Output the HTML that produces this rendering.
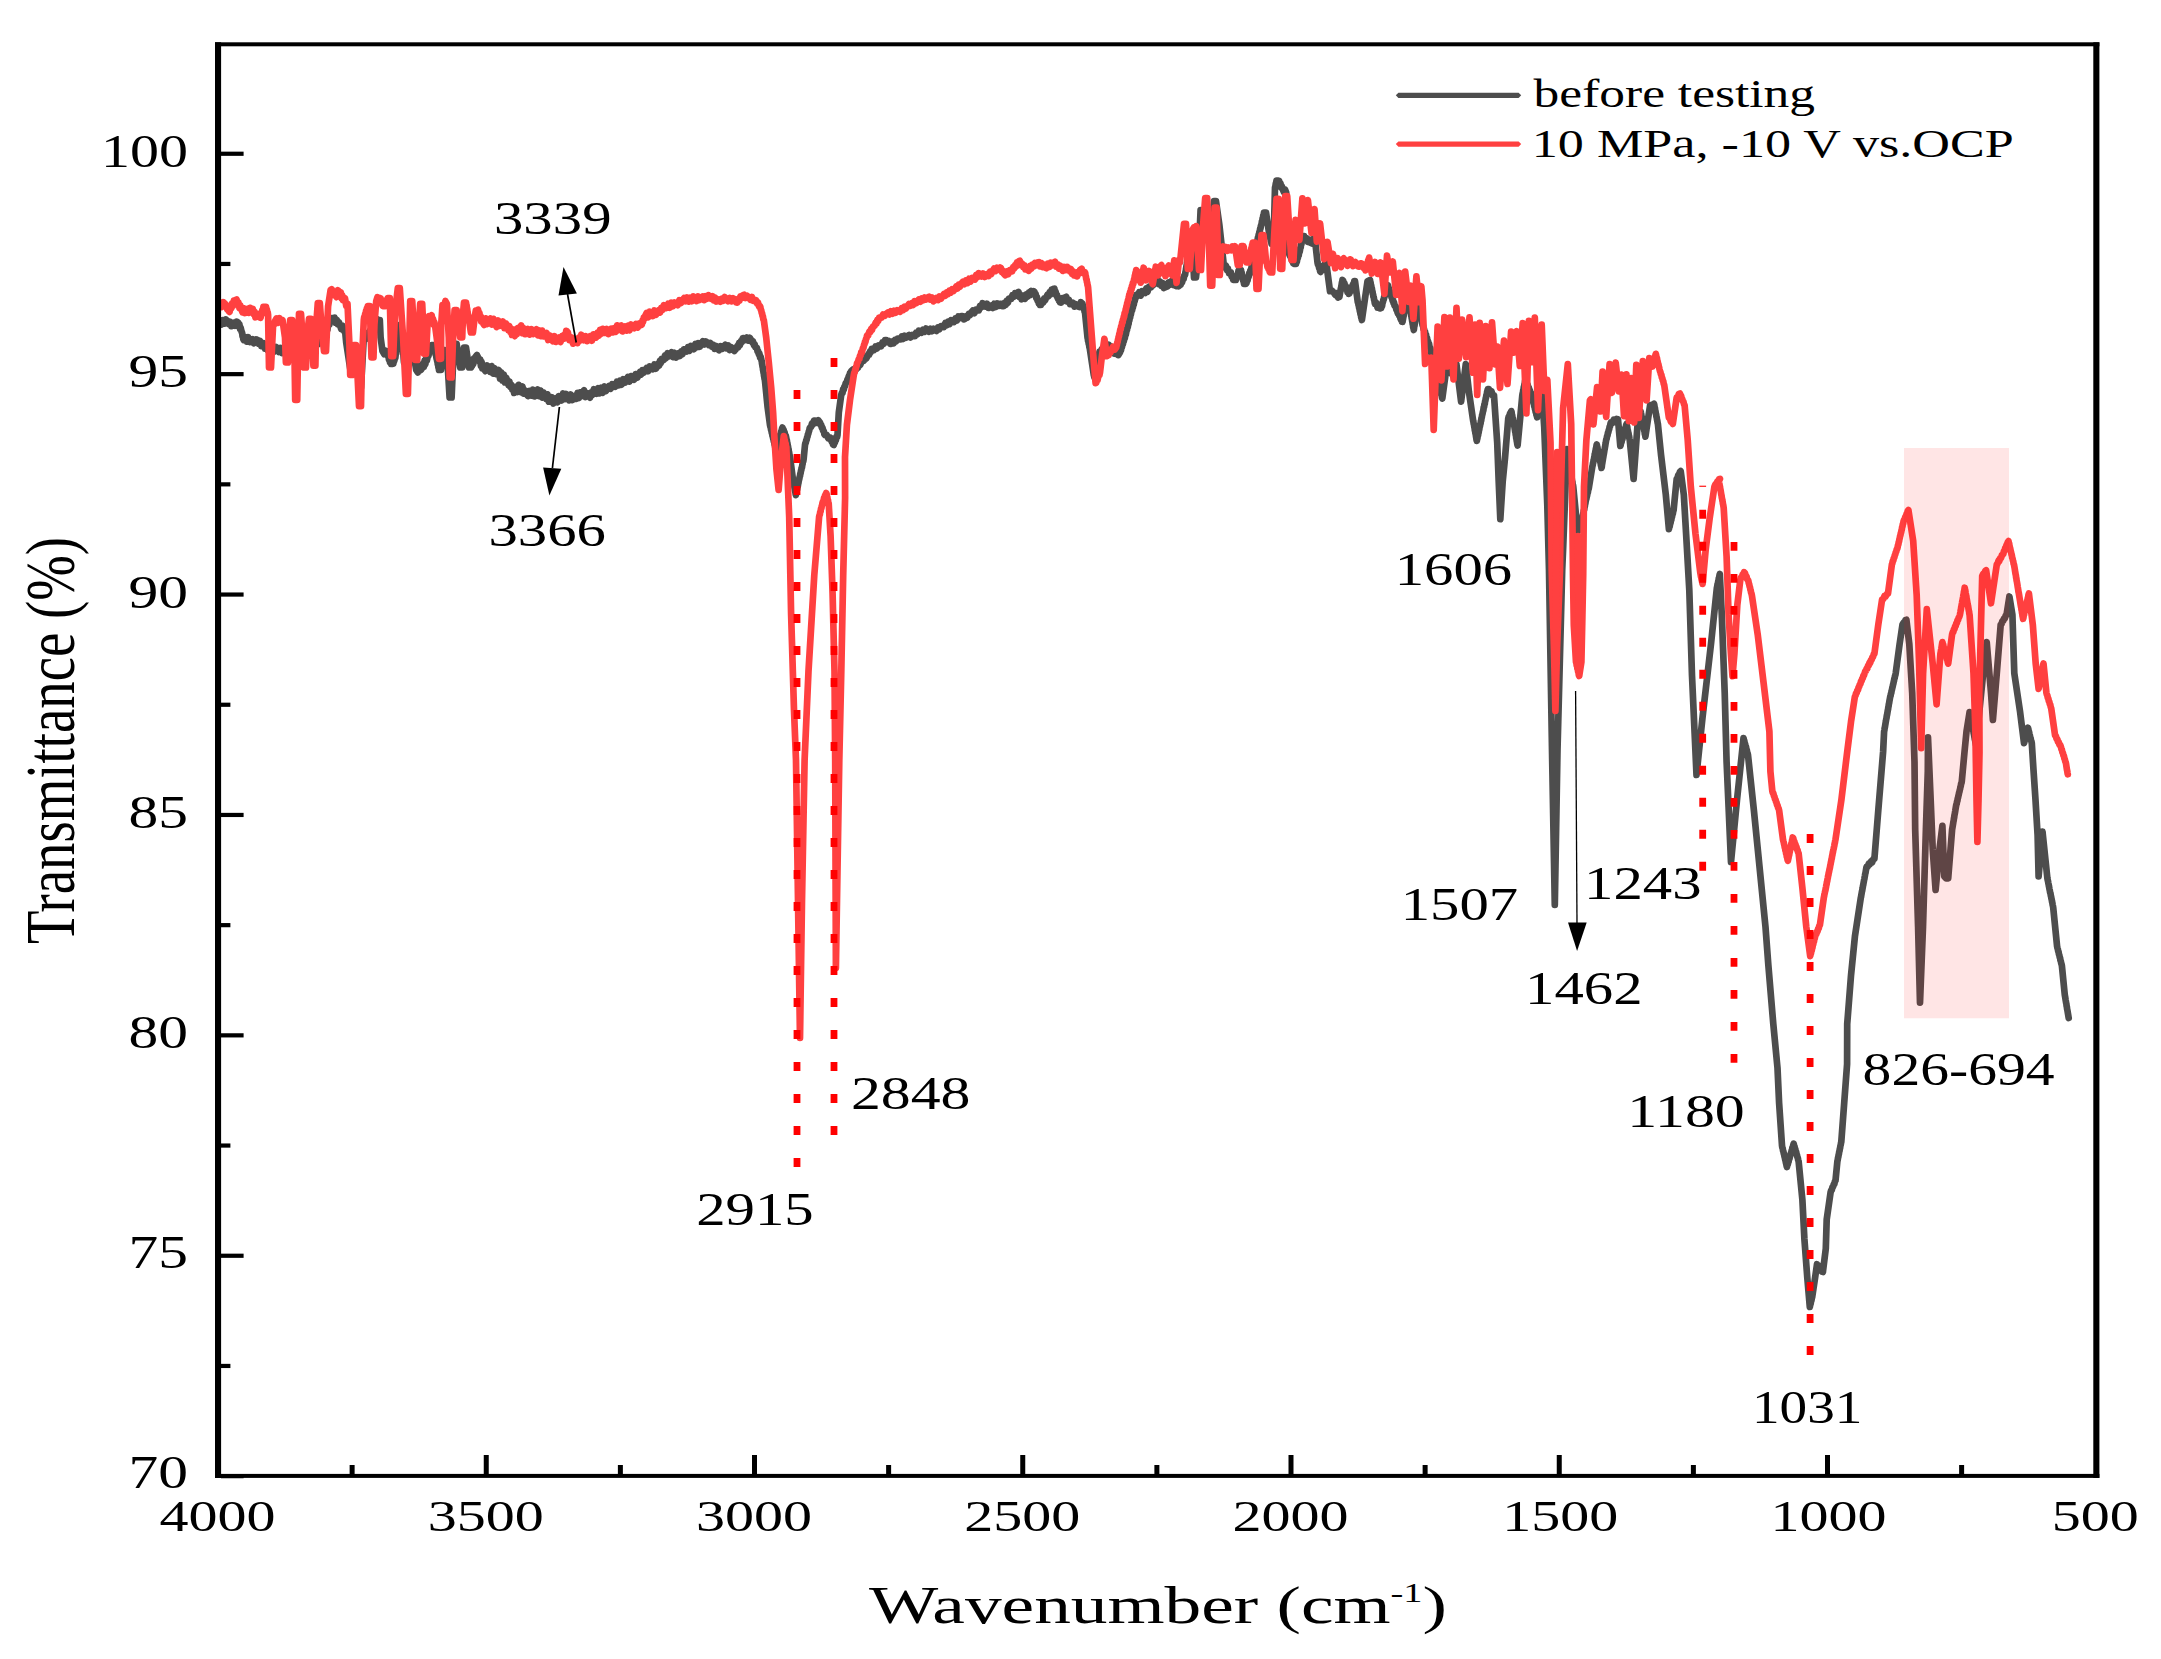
<!DOCTYPE html>
<html lang="en"><head><meta charset="utf-8"><title>FTIR spectra</title>
<style>html,body{margin:0;padding:0;background:#fff;}svg{display:block;}</style></head>
<body>
<svg width="2161" height="1659" viewBox="0 0 2161 1659">
<rect x="0" y="0" width="2161" height="1659" fill="#ffffff"/>
<defs><clipPath id="plot"><rect x="218" y="44" width="1878" height="1432"/></clipPath></defs>
<polyline fill="none" stroke="#4d4d4d" stroke-width="6.7" stroke-linejoin="round" stroke-linecap="round" clip-path="url(#plot)" points="218.1,323.8 219.7,321.4 221.2,324.6 222.8,320.1 224.4,323.6 225.9,319.4 227.5,321.2 228.8,324.1 230.0,321.7 231.2,326.2 232.5,325.0 233.9,322.9 235.3,325.8 236.7,321.6 238.1,322.5 238.8,325.0 239.4,324.2 240.0,328.7 240.6,327.5 241.2,330.0 241.7,332.3 242.1,332.5 242.5,336.1 242.9,335.8 243.3,339.1 243.8,340.0 245.2,337.0 246.8,341.6 248.2,337.2 249.8,342.0 251.2,340.0 252.5,339.2 253.8,343.3 255.0,342.5 256.2,339.4 257.5,340.0 258.8,343.8 260.0,340.9 261.2,346.0 262.5,345.0 263.8,343.4 265.0,348.7 266.2,345.2 267.5,349.9 268.8,347.6 270.0,350.0 271.5,351.6 273.0,346.9 274.5,351.5 276.0,346.9 277.5,348.8 279.0,352.0 280.5,348.0 282.0,353.0 283.5,348.9 285.0,352.5 286.4,355.7 287.9,351.6 289.3,356.6 290.7,352.2 292.1,358.2 293.6,352.9 295.0,356.2 296.7,357.9 298.3,352.2 300.0,356.8 301.7,352.3 303.3,357.1 305.0,353.8 306.2,350.9 307.5,353.8 308.8,348.9 310.0,351.9 311.2,345.6 312.5,349.6 313.8,343.2 315.0,345.0 316.1,345.9 317.1,340.3 318.2,344.2 319.3,338.3 320.4,341.9 321.4,335.8 322.5,337.5 323.2,338.4 323.9,333.0 324.6,335.3 325.3,330.7 326.0,332.6 326.7,327.2 327.4,330.1 328.1,324.2 328.8,325.0 329.4,324.6 330.1,320.2 330.8,321.5 331.5,318.1 333.5,318.1 334.6,317.7 335.7,322.7 336.8,319.8 337.8,324.4 338.9,322.2 340.0,325.0 341.2,329.0 342.5,325.7 343.8,330.7 345.0,330.0 346.2,342.5 350.2,368.8 352.2,368.8 354.0,350.0 356.0,350.0 359.0,387.5 361.0,387.5 363.8,337.5 365.0,334.2 366.2,338.9 367.5,333.0 368.8,336.4 370.0,330.4 371.2,335.4 372.5,331.2 373.2,327.7 373.8,330.7 374.5,325.5 375.1,327.3 375.8,322.6 376.4,325.1 377.1,319.0 377.8,320.0 379.8,320.0 380.6,337.5 382.5,351.2 384.2,354.2 385.8,350.8 387.5,353.8 388.0,356.3 388.5,355.4 388.9,359.4 389.4,358.0 389.9,362.1 390.4,361.4 390.9,363.8 392.9,363.8 393.4,363.7 393.8,359.6 394.3,360.9 394.8,356.2 395.3,358.2 395.8,353.7 396.2,353.8 399.0,325.0 401.0,325.0 404.0,362.5 406.0,362.5 409.0,337.5 411.0,337.5 416.2,370.0 417.8,372.4 419.4,365.6 420.9,370.1 422.5,367.5 423.2,363.5 423.9,367.0 424.6,360.7 425.4,364.2 426.1,358.5 426.8,360.8 427.5,357.5 428.0,354.9 428.5,355.9 429.0,351.8 429.5,352.2 430.0,348.6 430.5,349.2 431.0,345.3 431.5,345.0 433.5,345.0 433.9,347.3 434.3,347.5 434.7,350.6 435.1,350.7 435.5,354.0 435.9,353.9 436.2,356.2 436.6,358.8 436.9,358.5 437.2,361.4 437.5,361.7 437.8,364.6 438.1,364.7 438.4,367.5 438.7,367.5 439.0,370.0 441.0,370.0 442.8,350.0 444.8,350.0 445.1,352.8 445.4,352.2 445.8,355.6 446.1,355.6 446.5,358.5 446.8,358.6 447.2,361.7 447.5,362.5 449.6,397.5 451.6,397.5 453.1,362.5 454.6,343.8 456.6,343.8 460.2,367.5 462.2,367.5 464.0,347.5 466.0,347.5 469.0,367.5 471.0,367.5 471.6,363.9 472.1,366.0 472.7,362.0 473.3,364.1 473.9,358.5 474.4,360.3 475.0,357.5 476.9,355.0 478.8,358.8 479.5,361.6 480.2,359.4 480.9,365.9 481.6,361.8 482.3,368.3 483.0,365.5 483.8,368.8 485.4,371.1 487.1,365.5 488.8,367.5 490.2,371.9 491.7,366.1 493.1,373.6 494.6,368.2 496.0,374.1 497.5,372.5 498.8,370.1 500.0,378.5 501.2,372.2 502.5,380.4 503.8,374.5 505.0,382.4 506.2,377.8 507.5,381.2 508.4,385.1 509.4,381.4 510.3,386.8 511.2,384.5 512.2,389.7 513.1,386.6 514.1,392.9 515.0,391.2 516.2,386.6 517.5,392.1 518.8,384.8 520.0,387.5 521.2,392.3 522.5,386.5 523.8,393.7 525.0,390.3 526.2,393.8 527.9,396.0 529.6,391.0 531.2,395.5 532.9,389.8 534.6,396.4 536.2,392.5 537.7,389.4 539.2,396.1 540.6,390.6 542.1,397.6 543.5,392.5 545.0,395.0 546.2,399.1 547.5,394.3 548.8,401.7 550.0,400.0 551.7,397.2 553.3,403.5 555.0,401.2 556.2,398.3 557.5,402.4 558.8,396.2 560.0,397.5 561.5,400.5 563.0,393.5 564.5,399.2 566.0,394.0 567.5,396.2 569.1,400.3 570.6,394.5 572.2,400.1 573.8,398.8 575.0,396.0 576.2,398.9 577.5,393.0 578.8,398.1 580.0,392.4 581.2,396.3 582.5,392.5 584.1,390.2 585.6,397.1 587.2,393.1 588.8,396.2 590.0,397.7 591.2,392.5 592.5,394.8 593.8,389.2 595.0,391.2 596.6,393.6 598.1,388.2 599.7,393.4 601.2,387.7 602.8,392.7 604.4,386.5 605.9,391.0 607.5,388.8 609.1,385.9 610.6,388.8 612.2,384.1 613.8,385.0 615.3,386.8 616.9,381.8 618.4,385.3 620.0,380.8 621.6,384.7 623.1,379.2 624.7,382.8 626.2,380.0 627.8,377.1 629.4,381.5 630.9,376.1 632.5,377.5 634.1,379.6 635.6,374.1 637.2,377.8 638.8,375.0 640.0,372.0 641.2,374.4 642.5,370.1 643.8,372.6 645.0,370.0 646.6,368.0 648.1,371.2 649.7,366.5 651.2,367.5 652.8,369.2 654.4,364.5 655.9,368.7 657.5,366.2 658.3,363.6 659.2,365.4 660.0,360.8 660.8,363.2 661.7,358.8 662.5,358.8 663.8,359.9 665.0,355.5 666.2,357.9 667.5,353.2 668.8,356.5 670.0,353.8 671.5,352.2 673.0,357.0 674.5,352.8 676.0,357.6 677.5,356.2 678.8,353.3 680.0,356.0 681.2,351.3 682.5,354.1 683.8,349.3 685.0,350.0 686.5,351.4 688.0,347.2 689.5,350.9 691.0,345.9 692.5,347.5 694.0,349.1 695.4,343.9 696.9,347.1 698.3,343.1 699.8,346.7 701.2,343.8 702.8,341.2 704.4,344.5 705.9,341.5 707.5,342.5 708.9,345.0 710.4,343.1 711.8,346.6 713.2,344.9 714.6,348.8 716.1,345.9 717.5,348.8 719.1,350.3 720.6,346.2 722.2,348.8 723.8,346.2 725.2,344.8 726.7,348.4 728.1,345.4 729.6,350.1 731.0,347.0 732.5,348.8 734.4,350.9 736.2,348.8 737.2,346.2 738.1,347.4 739.1,343.0 740.0,345.1 740.9,341.1 741.9,342.0 742.8,338.1 743.8,338.1 745.2,339.9 746.8,337.6 748.2,340.6 749.8,337.8 751.2,340.0 752.1,342.1 752.9,341.2 753.8,344.9 754.6,344.2 755.4,347.3 756.2,347.5 756.9,347.8 757.5,351.3 758.1,351.0 758.8,354.4 759.4,353.4 760.0,357.2 760.6,356.6 761.2,358.8 761.5,360.5 761.8,361.5 762.0,363.6 762.2,364.5 762.5,366.5 762.8,367.5 763.0,369.6 763.2,370.4 763.5,372.5 763.8,373.5 764.0,375.6 764.2,376.4 764.5,378.6 764.8,379.5 765.0,381.2 767.5,406.2 770.0,425.0 770.4,426.8 770.7,427.4 771.1,429.9 771.4,430.5 771.8,433.0 772.1,433.3 772.5,435.9 772.8,436.4 773.2,438.8 773.5,439.4 773.9,441.8 774.2,442.2 774.6,444.6 774.9,445.1 775.3,447.7 775.6,448.1 776.0,450.0 776.4,449.0 776.9,446.4 777.3,446.0 777.7,443.5 778.2,443.0 778.6,440.6 779.0,440.0 779.5,437.5 779.9,437.0 780.3,434.3 780.8,434.0 781.2,431.4 781.6,431.0 782.1,428.5 782.5,427.5 783.0,429.5 783.6,429.7 784.1,432.3 784.6,432.3 785.2,435.5 785.7,435.4 786.2,437.5 786.5,439.3 786.8,440.0 787.1,442.3 787.4,443.1 787.7,445.3 788.0,446.2 788.3,448.4 788.6,449.2 788.8,451.4 789.1,452.1 789.4,454.5 789.7,455.2 790.0,457.0 793.0,480.0 793.3,481.9 793.6,482.6 793.9,484.9 794.2,485.7 794.5,487.8 794.7,488.8 795.0,490.8 795.3,491.7 795.6,493.9 795.9,495.0 796.2,493.2 796.5,492.3 796.8,490.2 797.1,489.5 797.5,487.0 797.8,486.4 798.1,484.2 798.4,483.3 798.7,481.2 799.0,480.0 799.3,478.9 799.7,476.7 800.0,476.0 800.3,473.7 800.6,473.2 801.0,470.6 801.3,470.1 801.6,467.8 802.0,467.3 802.3,464.8 802.6,464.1 802.9,462.0 803.3,461.2 803.6,459.3 805.0,445.0 805.4,443.0 805.8,442.7 806.2,440.2 806.7,439.8 807.1,437.3 807.5,436.7 807.9,434.4 808.3,433.9 808.8,431.5 809.2,430.8 809.6,428.5 810.0,427.5 811.0,427.1 812.0,423.5 813.0,424.5 814.0,420.7 815.0,420.6 816.7,422.7 818.3,420.3 820.0,422.5 820.6,425.1 821.2,424.9 821.9,427.9 822.5,427.7 823.1,430.9 823.8,431.0 824.4,434.3 825.0,435.0 826.7,434.9 828.3,438.3 830.0,437.5 830.8,437.8 831.5,441.5 832.2,440.9 833.0,444.6 833.8,445.0 834.3,443.0 834.8,442.9 835.4,440.0 835.9,440.2 836.4,437.0 837.0,437.3 837.5,435.0 838.8,412.5 841.2,395.0 841.9,392.6 842.5,392.9 843.1,389.4 843.8,389.6 844.4,386.5 845.0,386.2 845.6,383.5 846.2,382.5 846.9,381.9 847.5,379.1 848.1,379.3 848.8,376.0 849.4,376.4 850.0,373.1 850.6,373.6 851.2,371.2 853.1,369.3 855.0,370.0 856.0,369.5 857.1,366.1 858.1,367.6 859.2,363.9 860.2,364.9 861.2,362.5 862.5,360.0 863.8,360.8 865.0,357.4 866.2,358.5 867.5,356.2 868.3,354.3 869.2,354.6 870.0,351.3 870.8,352.1 871.7,348.8 872.5,348.8 874.0,349.9 875.5,346.5 877.0,348.4 878.5,345.5 880.0,346.2 881.2,346.3 882.5,342.4 883.8,343.7 885.0,340.0 886.2,340.0 887.5,341.8 888.8,341.0 890.0,343.8 891.2,343.8 892.5,341.5 893.8,343.1 895.0,340.0 896.2,341.2 897.5,338.7 898.8,338.8 900.2,339.4 901.7,336.5 903.1,338.9 904.6,335.7 906.0,337.8 907.5,336.2 909.1,335.0 910.6,337.5 912.2,335.0 913.8,336.2 915.0,336.2 916.2,332.7 917.5,334.2 918.8,330.6 920.0,331.2 921.5,332.7 923.0,329.8 924.5,331.8 926.0,328.6 927.5,330.0 929.0,331.8 930.5,328.7 932.0,331.2 933.5,328.9 935.0,330.0 936.5,331.0 938.0,327.4 939.5,329.2 941.0,326.0 942.5,326.2 943.9,326.9 945.4,323.0 946.8,325.2 948.2,321.7 949.6,324.1 951.1,320.2 952.5,321.2 954.0,322.0 955.4,318.4 956.9,320.5 958.3,316.5 959.8,318.1 961.2,316.2 962.5,316.1 963.8,319.3 965.0,318.8 966.2,316.2 967.5,317.4 968.8,314.0 970.0,315.0 971.2,312.5 972.8,310.6 974.4,313.1 975.9,309.6 977.5,310.0 978.8,310.4 980.0,305.8 981.2,307.3 982.5,303.2 983.8,303.8 985.3,306.4 986.9,303.7 988.4,307.9 990.0,307.5 991.4,305.5 992.9,307.9 994.3,303.8 995.8,307.0 997.2,303.4 998.7,305.8 1000.1,303.8 1001.3,303.8 1002.5,306.2 1003.6,306.2 1004.6,303.0 1005.7,304.9 1006.8,300.7 1007.9,302.8 1008.9,298.6 1010.0,298.8 1011.2,299.0 1012.5,295.1 1013.8,296.9 1015.0,293.2 1016.2,295.6 1017.5,292.5 1018.5,291.9 1019.5,296.7 1020.5,294.7 1021.5,299.3 1022.5,298.8 1023.8,295.8 1025.0,298.8 1026.2,294.4 1027.5,296.6 1028.8,292.7 1030.0,295.3 1031.2,291.0 1032.5,293.9 1033.8,291.2 1034.4,291.7 1035.0,294.8 1035.6,293.9 1036.2,297.6 1036.9,297.0 1037.5,300.5 1038.1,299.9 1038.8,303.6 1039.4,302.1 1040.0,305.0 1041.0,305.0 1042.1,300.8 1043.1,302.6 1044.2,298.4 1045.2,300.2 1046.2,297.5 1047.3,295.0 1048.4,296.2 1049.5,292.5 1050.5,294.5 1051.6,289.7 1052.7,291.3 1053.8,288.8 1054.4,288.6 1055.0,293.1 1055.6,291.7 1056.2,295.1 1056.9,294.7 1057.5,297.9 1058.1,297.3 1058.8,300.6 1059.4,300.1 1060.0,302.5 1061.2,302.6 1062.5,298.3 1063.8,300.8 1065.0,297.5 1066.2,296.8 1067.5,301.6 1068.8,299.7 1070.0,304.2 1071.2,303.8 1072.8,302.7 1074.4,306.6 1075.9,304.3 1077.5,306.2 1079.2,307.0 1080.8,302.2 1082.5,303.8 1082.9,305.8 1083.3,305.9 1083.8,309.0 1084.2,308.6 1084.6,311.7 1085.0,312.5 1087.5,337.5 1087.8,338.6 1088.1,341.0 1088.4,341.7 1088.8,344.2 1089.1,344.6 1089.4,347.5 1089.7,347.8 1090.0,350.0 1093.8,375.0 1094.4,377.4 1095.0,377.6 1095.6,380.0 1097.5,356.2 1098.5,356.9 1099.5,351.6 1100.5,354.1 1101.5,349.5 1102.5,350.0 1104.0,350.5 1105.5,346.7 1107.0,350.2 1108.5,344.7 1110.0,346.2 1110.8,349.4 1111.7,346.7 1112.5,351.3 1113.3,350.1 1114.2,353.7 1115.0,353.8 1116.7,351.4 1118.3,355.1 1120.0,352.5 1120.5,349.8 1121.0,350.5 1121.4,346.9 1121.9,347.4 1122.4,343.9 1122.9,344.2 1123.4,341.1 1123.8,341.3 1124.3,337.9 1124.8,338.3 1125.3,334.6 1125.8,334.8 1126.2,332.5 1126.6,330.4 1127.0,330.0 1127.4,327.1 1127.8,327.1 1128.2,324.3 1128.6,323.8 1128.9,321.0 1129.3,320.9 1129.7,318.0 1130.1,317.7 1130.5,314.8 1130.9,314.5 1131.2,312.5 1131.7,310.3 1132.1,310.4 1132.5,307.1 1132.9,307.6 1133.3,304.2 1133.8,304.6 1134.2,301.6 1134.6,301.5 1135.0,298.3 1135.4,298.8 1135.8,295.8 1136.2,295.0 1137.8,295.8 1139.2,292.1 1140.8,295.6 1142.2,291.2 1143.8,292.5 1145.0,293.0 1146.2,288.5 1147.5,291.8 1148.8,287.0 1150.0,287.5 1151.0,287.4 1152.1,283.5 1153.1,285.3 1154.2,280.7 1155.2,282.6 1156.2,280.0 1157.5,279.0 1158.8,284.2 1160.0,281.5 1161.2,285.7 1162.5,283.1 1163.8,288.0 1165.0,287.5 1166.2,284.2 1167.5,286.4 1168.8,282.4 1170.0,284.5 1171.2,281.2 1172.5,280.5 1173.8,285.2 1175.0,282.0 1176.2,286.0 1177.5,284.0 1178.8,286.2 1180.0,285.0 1180.7,284.8 1181.4,280.7 1182.1,282.4 1182.9,278.3 1183.6,279.1 1184.3,275.4 1185.0,275.0 1185.2,274.0 1185.5,271.7 1185.8,270.8 1186.0,268.8 1186.2,267.9 1186.5,265.6 1186.8,265.1 1187.0,262.7 1187.2,262.1 1187.5,259.6 1187.8,259.0 1188.0,256.8 1188.2,256.1 1188.5,253.7 1188.8,252.9 1189.0,250.8 1189.2,250.0 1189.5,247.9 1189.8,247.1 1190.0,244.9 1190.2,243.8 1192.2,243.8 1194.0,277.5 1196.0,277.5 1198.8,250.0 1200.6,210.0 1201.8,212.1 1202.9,210.6 1204.0,214.5 1205.1,211.8 1206.2,215.0 1209.0,237.5 1211.0,237.5 1214.0,201.2 1216.0,201.2 1219.4,225.0 1223.8,265.0 1224.8,267.4 1225.8,265.4 1226.9,270.0 1227.9,268.6 1229.0,273.2 1230.0,272.5 1230.8,272.4 1231.6,276.7 1232.4,276.1 1233.2,279.8 1234.0,280.0 1236.0,280.0 1236.5,277.6 1237.0,277.7 1237.5,274.4 1238.0,274.1 1238.5,270.6 1239.0,270.0 1241.0,270.0 1241.3,271.9 1241.7,272.5 1242.0,275.2 1242.3,275.5 1242.7,278.0 1243.0,278.8 1243.3,281.1 1243.7,281.5 1244.0,283.8 1246.0,283.8 1246.5,283.0 1247.0,279.7 1247.6,280.4 1248.1,276.9 1248.6,277.0 1249.2,273.5 1249.7,274.3 1250.2,271.0 1250.7,271.3 1251.2,268.8 1251.6,266.8 1251.9,266.0 1252.2,263.7 1252.5,263.1 1252.8,260.3 1253.1,259.9 1253.4,257.2 1253.8,256.6 1254.1,254.3 1254.4,253.6 1254.7,250.9 1255.0,250.0 1255.4,249.4 1255.7,246.5 1256.1,246.1 1256.5,243.5 1256.8,243.3 1257.2,240.3 1257.6,240.2 1257.9,237.5 1258.3,237.5 1258.7,234.5 1259.0,234.6 1259.4,231.7 1259.8,231.5 1260.1,228.8 1260.5,228.5 1260.9,225.7 1261.2,225.0 1261.6,223.8 1261.9,221.4 1262.3,220.9 1262.6,218.3 1263.0,217.6 1263.3,215.3 1263.7,214.6 1264.0,212.5 1266.0,212.5 1268.8,231.2 1269.1,232.3 1269.4,235.1 1269.8,235.3 1270.1,238.2 1270.5,238.6 1270.8,241.0 1271.2,241.8 1271.5,243.8 1273.5,243.8 1275.0,187.5 1275.4,186.3 1275.8,183.5 1276.1,182.9 1276.5,180.6 1278.5,180.6 1279.2,181.0 1279.8,184.5 1280.5,183.4 1281.2,187.4 1281.8,186.0 1282.5,188.8 1283.8,191.9 1285.0,189.5 1286.2,192.5 1287.5,250.0 1288.2,252.3 1288.8,251.3 1289.5,255.1 1290.1,254.3 1290.8,257.9 1291.4,256.9 1292.0,260.6 1292.7,260.0 1293.3,263.3 1294.0,263.8 1296.0,263.8 1296.4,261.6 1296.9,261.6 1297.3,258.4 1297.8,258.3 1298.2,255.4 1298.7,255.6 1299.1,252.3 1299.6,252.1 1300.0,250.0 1300.3,247.8 1300.7,247.6 1301.0,244.7 1301.4,244.3 1301.7,241.8 1302.1,241.5 1302.4,238.6 1302.8,238.5 1303.1,236.2 1304.3,236.2 1305.4,239.7 1306.6,238.2 1307.7,241.7 1308.9,239.4 1310.0,242.5 1311.7,243.4 1313.3,238.7 1315.0,240.0 1317.5,262.5 1318.0,264.8 1318.5,264.6 1319.1,268.0 1319.6,268.0 1320.1,271.3 1320.6,271.9 1321.4,268.8 1322.2,270.2 1323.0,266.5 1323.8,267.9 1324.6,264.1 1325.4,265.0 1326.2,262.5 1330.0,291.2 1331.9,290.6 1333.8,292.5 1335.2,294.9 1336.6,293.4 1338.0,297.5 1339.4,296.9 1339.7,294.9 1339.9,294.1 1340.2,292.0 1340.5,291.1 1340.8,288.8 1341.1,288.0 1341.4,285.8 1341.6,284.9 1341.9,282.6 1342.2,281.9 1342.5,280.0 1343.1,280.6 1343.8,283.6 1344.4,283.1 1345.0,286.6 1345.6,285.7 1346.2,289.0 1346.9,288.8 1347.5,292.2 1348.1,291.3 1348.8,293.8 1349.4,293.4 1350.1,290.0 1350.8,291.1 1351.5,287.2 1352.2,288.0 1352.9,284.4 1353.6,285.1 1354.3,281.2 1355.0,281.2 1357.5,300.0 1357.8,302.2 1358.2,302.6 1358.5,305.0 1358.8,305.6 1359.2,308.1 1359.5,308.9 1359.9,311.4 1360.2,311.8 1360.5,314.5 1360.9,314.9 1361.2,317.6 1361.5,318.0 1361.9,320.0 1367.5,281.2 1370.0,280.0 1370.3,281.9 1370.6,282.6 1370.9,284.9 1371.2,285.4 1371.6,288.0 1371.9,288.6 1372.2,290.9 1372.5,291.4 1372.8,293.8 1373.1,294.5 1373.4,296.7 1373.8,297.3 1374.1,299.9 1374.4,300.4 1374.7,302.7 1375.0,303.8 1376.2,302.7 1377.5,307.6 1378.8,305.1 1380.0,308.4 1381.2,308.1 1381.7,305.7 1382.1,305.9 1382.5,302.9 1382.9,302.4 1383.3,299.6 1383.8,299.5 1384.2,296.5 1384.6,296.5 1385.0,293.5 1385.4,293.2 1385.8,290.4 1386.2,290.2 1386.7,287.5 1387.1,287.3 1387.5,285.0 1388.0,285.4 1388.5,288.5 1389.0,288.5 1389.5,291.5 1390.0,291.2 1390.5,294.3 1391.0,294.3 1391.5,297.1 1392.0,296.8 1392.5,300.3 1393.0,300.0 1393.5,302.9 1394.0,302.4 1394.5,305.4 1395.0,306.2 1395.7,306.3 1396.4,309.9 1397.0,309.3 1397.7,313.1 1398.4,312.2 1399.1,315.7 1399.8,315.2 1400.5,318.8 1401.1,318.0 1401.8,321.7 1402.5,321.9 1402.8,320.0 1403.0,319.3 1403.3,317.2 1403.6,316.3 1403.8,314.1 1404.1,313.3 1404.3,311.1 1404.6,310.5 1404.9,308.2 1405.1,307.4 1405.4,305.2 1405.7,304.4 1405.9,302.4 1406.2,301.5 1406.4,299.4 1406.7,298.5 1407.0,296.3 1407.2,295.5 1407.5,293.8 1407.8,294.9 1408.0,297.0 1408.3,297.9 1408.5,300.2 1408.8,301.0 1409.1,303.1 1409.3,304.0 1409.6,306.1 1409.8,306.9 1410.1,309.1 1410.4,309.9 1410.6,312.3 1410.9,313.0 1411.1,315.3 1411.4,316.1 1411.7,318.4 1411.9,319.1 1412.2,321.4 1412.4,322.0 1412.7,324.2 1413.0,325.1 1413.2,327.4 1413.5,328.2 1413.8,330.0 1414.0,328.8 1414.2,326.6 1414.5,325.7 1414.8,323.6 1415.0,322.8 1415.2,320.6 1415.5,319.7 1415.8,317.7 1416.0,316.9 1416.2,314.7 1416.5,313.8 1416.8,311.7 1417.0,310.8 1417.2,308.8 1417.5,307.8 1417.8,305.8 1418.0,304.9 1418.2,302.6 1418.5,301.9 1418.8,300.0 1422.5,325.0 1423.0,325.9 1423.5,328.9 1424.0,328.9 1424.5,331.8 1425.0,331.6 1425.5,334.7 1426.0,334.5 1426.5,337.8 1427.0,337.7 1427.5,341.0 1428.0,340.9 1428.5,344.1 1429.0,343.6 1429.5,346.7 1430.0,347.5 1430.4,348.3 1430.8,351.0 1431.1,351.3 1431.5,354.2 1431.9,354.6 1432.3,357.3 1432.6,357.6 1433.0,360.1 1433.4,360.6 1433.8,363.1 1434.2,363.6 1434.5,366.3 1434.9,366.7 1435.3,369.6 1435.7,369.8 1436.1,371.9 1436.4,373.9 1436.7,374.4 1437.1,376.7 1437.4,377.4 1437.8,379.7 1438.1,380.2 1438.5,382.7 1438.8,383.2 1439.2,385.9 1439.5,386.3 1439.9,388.6 1440.2,389.1 1440.6,391.5 1440.9,392.3 1441.3,394.6 1441.6,395.2 1442.0,397.5 1442.3,398.5 1447.0,364.0 1447.7,364.5 1448.4,367.9 1449.1,367.0 1449.8,370.4 1450.5,369.7 1451.1,373.3 1451.8,372.8 1452.5,375.0 1453.1,374.5 1453.6,371.2 1454.2,370.9 1454.7,368.1 1455.3,368.1 1455.9,364.6 1456.4,364.0 1461.1,401.7 1465.8,364.0 1469.0,392.3 1472.9,418.9 1473.2,420.9 1473.4,421.7 1473.7,423.9 1474.0,424.9 1474.3,427.1 1474.6,428.0 1474.8,430.2 1475.1,431.1 1475.4,433.3 1475.7,434.1 1476.0,436.5 1476.2,437.4 1476.5,439.7 1476.8,440.8 1477.1,439.1 1477.4,438.3 1477.7,436.0 1478.1,435.2 1478.4,433.1 1478.7,432.4 1479.0,430.1 1479.3,429.4 1479.6,426.9 1479.9,426.3 1480.3,424.1 1480.6,423.4 1480.9,421.1 1481.2,420.5 1481.5,418.0 1481.8,417.4 1482.1,415.2 1482.4,414.4 1482.8,412.3 1483.1,411.1 1483.4,410.0 1483.7,407.4 1484.1,406.9 1484.4,404.5 1484.8,403.8 1485.1,401.2 1485.4,400.5 1485.8,398.0 1486.1,397.4 1486.4,395.0 1486.8,394.1 1487.1,391.9 1487.4,391.0 1487.8,389.1 1489.0,389.2 1490.3,393.2 1491.5,391.4 1492.8,395.8 1494.0,395.4 1497.2,442.4 1498.7,481.6 1500.3,519.2 1502.7,481.6 1505.0,458.1 1508.2,418.9 1508.8,416.4 1509.4,416.5 1510.0,413.3 1510.7,413.5 1511.3,411.1 1511.6,412.2 1511.9,414.6 1512.2,415.4 1512.5,417.8 1512.9,418.4 1513.2,420.8 1513.5,421.6 1513.8,423.9 1514.1,424.9 1514.4,426.7 1514.7,428.5 1514.9,429.5 1515.2,431.8 1515.5,432.7 1515.7,434.8 1516.0,435.8 1516.2,438.0 1516.5,439.0 1516.8,441.2 1517.0,442.1 1517.3,444.3 1517.6,445.5 1522.3,395.4 1522.6,393.4 1522.9,392.8 1523.2,390.3 1523.5,389.6 1523.8,387.1 1524.1,386.5 1524.5,384.1 1524.8,383.3 1525.1,380.9 1525.4,379.7 1526.0,381.9 1526.5,381.9 1527.1,384.9 1527.7,384.8 1528.2,387.9 1528.8,387.6 1529.4,390.3 1530.0,390.5 1530.5,393.6 1531.1,393.2 1531.7,395.4 1532.0,397.2 1532.4,398.0 1532.8,400.1 1533.1,400.7 1533.5,403.3 1533.9,403.6 1534.2,406.2 1534.6,406.7 1535.0,409.1 1535.3,409.6 1535.7,412.1 1536.1,412.3 1536.4,415.0 1536.8,415.5 1537.1,417.3 1541.1,379.7 1544.2,426.7 1547.3,505.1 1549.0,570.0 1552.0,750.0 1554.8,905.0 1557.5,750.0 1562.2,570.0 1563.1,549.0 1565.5,487.0 1567.0,449.0 1570.0,470.0 1570.3,472.0 1570.6,472.7 1570.9,475.1 1571.2,475.9 1571.5,478.0 1571.8,479.0 1572.1,481.1 1572.4,481.9 1572.7,484.3 1573.0,485.1 1573.3,487.0 1576.0,515.0 1578.0,531.0 1578.6,530.3 1579.1,527.1 1579.7,526.9 1580.3,524.2 1580.9,523.7 1581.4,520.7 1582.0,520.0 1582.3,518.7 1582.6,516.6 1582.9,515.7 1583.2,513.6 1583.5,512.6 1583.8,510.5 1584.2,509.6 1584.5,507.4 1584.8,506.5 1585.1,504.2 1585.4,503.4 1585.7,501.1 1586.0,500.0 1586.4,498.8 1586.8,496.5 1587.1,495.5 1587.5,493.1 1587.9,492.4 1588.2,489.9 1588.6,489.1 1589.0,487.0 1592.1,468.0 1592.4,466.2 1592.7,465.3 1593.0,463.1 1593.3,462.4 1593.6,460.2 1593.9,459.4 1594.2,457.5 1594.5,456.5 1594.7,454.3 1595.0,453.7 1595.3,451.6 1595.6,450.7 1595.9,448.5 1596.2,447.8 1596.5,445.6 1596.8,444.4 1597.1,446.3 1597.4,447.2 1597.7,449.5 1598.1,450.4 1598.4,452.7 1598.7,453.5 1599.0,455.7 1599.3,456.6 1599.6,458.9 1599.9,459.8 1600.3,462.0 1600.6,463.0 1600.9,465.2 1601.2,466.0 1601.5,467.9 1601.8,466.8 1602.0,464.7 1602.2,463.7 1602.5,461.7 1602.7,460.7 1603.0,458.7 1603.2,457.7 1603.5,455.7 1603.7,454.7 1604.0,452.9 1604.2,451.8 1604.5,449.8 1604.7,448.9 1605.0,446.9 1605.2,446.0 1605.5,444.0 1605.7,442.9 1606.0,440.9 1606.2,439.7 1606.6,438.8 1607.1,436.0 1607.5,435.6 1607.9,433.0 1608.3,432.3 1608.8,429.9 1609.2,429.4 1609.6,426.6 1610.1,426.2 1610.5,423.6 1610.9,422.5 1612.3,423.0 1613.7,419.8 1615.1,421.9 1616.6,419.0 1618.0,419.3 1620.3,446.0 1620.7,445.0 1621.1,442.4 1621.6,442.0 1622.0,439.7 1622.4,439.1 1622.8,436.6 1623.2,436.4 1623.7,433.9 1624.1,433.2 1624.5,430.9 1624.9,430.4 1625.3,427.9 1625.7,427.4 1626.2,425.0 1626.6,424.0 1626.9,425.9 1627.2,426.8 1627.5,429.1 1627.8,430.1 1628.2,432.3 1628.5,433.2 1628.8,435.3 1629.1,436.2 1629.4,438.5 1629.7,439.7 1633.6,478.9 1637.6,424.0 1637.9,422.0 1638.3,421.3 1638.7,419.0 1639.1,418.2 1639.5,415.9 1639.9,415.0 1640.3,412.7 1640.7,411.5 1641.0,413.2 1641.2,414.2 1641.5,416.3 1641.8,417.1 1642.1,419.2 1642.3,420.1 1642.6,422.1 1642.9,423.1 1643.2,425.1 1643.5,426.0 1643.7,428.1 1644.0,428.9 1644.3,430.9 1644.6,431.9 1644.8,434.0 1645.1,434.8 1645.4,436.6 1650.1,405.2 1652.1,405.4 1654.0,403.7 1654.3,404.9 1654.6,407.2 1654.9,408.0 1655.2,410.3 1655.5,411.2 1655.8,413.4 1656.1,414.3 1656.4,416.5 1656.7,417.5 1657.0,419.6 1657.3,420.7 1657.6,422.7 1657.9,424.0 1661.1,455.4 1665.8,494.6 1668.9,529.1 1669.3,527.0 1669.7,526.4 1670.1,523.9 1670.5,523.1 1670.9,520.9 1671.3,520.0 1671.6,517.7 1672.0,516.9 1672.4,514.5 1672.8,513.9 1673.2,511.5 1673.6,510.3 1676.7,478.9 1677.5,478.1 1678.3,474.9 1679.1,474.9 1679.9,471.9 1680.7,471.1 1683.8,494.6 1686.1,533.8 1689.3,590.0 1692.0,675.5 1696.5,775.0 1702.5,717.7 1711.0,643.8 1716.9,587.7 1717.2,586.5 1717.5,584.5 1717.9,583.4 1718.2,581.4 1718.5,580.4 1718.8,578.2 1719.2,577.3 1719.5,575.3 1719.8,574.0 1721.8,615.0 1724.7,692.7 1726.6,762.0 1731.0,862.0 1737.0,800.0 1743.5,738.0 1743.9,739.9 1744.3,740.7 1744.7,743.1 1745.1,743.8 1745.5,746.1 1746.0,746.8 1746.4,749.2 1746.8,750.0 1747.2,752.4 1747.6,753.2 1748.0,755.0 1753.9,810.3 1759.7,868.6 1765.5,927.0 1768.4,965.8 1773.3,1024.0 1777.5,1068.0 1779.1,1102.9 1782.0,1145.6 1782.3,1147.5 1782.7,1148.4 1783.0,1150.5 1783.4,1151.5 1783.8,1153.6 1784.1,1154.5 1784.5,1156.5 1784.8,1157.6 1785.2,1159.6 1785.5,1160.7 1785.9,1162.7 1786.2,1163.7 1786.6,1165.8 1786.9,1167.0 1787.3,1165.2 1787.8,1164.4 1788.2,1162.3 1788.6,1161.7 1789.0,1159.2 1789.5,1158.7 1789.9,1156.5 1790.3,1155.8 1790.7,1153.5 1791.2,1152.8 1791.6,1150.7 1792.0,1150.0 1792.4,1147.6 1792.9,1147.1 1793.3,1144.8 1793.7,1143.7 1794.1,1145.6 1794.5,1146.3 1794.9,1148.6 1795.3,1149.2 1795.7,1151.4 1796.2,1152.0 1796.6,1154.4 1797.0,1155.0 1797.4,1157.2 1797.8,1157.9 1798.2,1160.0 1798.6,1161.2 1802.4,1200.0 1804.4,1239.0 1807.3,1277.8 1809.8,1307.0 1810.2,1304.9 1810.6,1304.0 1811.0,1301.6 1811.4,1300.6 1811.8,1298.4 1812.2,1297.0 1815.1,1277.8 1817.0,1264.2 1818.0,1266.2 1819.0,1266.0 1820.0,1268.7 1820.9,1268.9 1821.9,1271.6 1822.9,1272.0 1825.8,1248.6 1826.7,1219.5 1830.6,1192.3 1831.2,1190.3 1831.8,1189.9 1832.4,1187.4 1833.0,1187.0 1833.7,1184.4 1834.3,1184.2 1834.9,1181.4 1835.5,1180.6 1837.4,1161.2 1837.7,1159.9 1838.0,1157.9 1838.3,1157.0 1838.6,1155.0 1838.9,1154.0 1839.2,1151.9 1839.5,1151.0 1839.8,1149.0 1840.1,1148.0 1840.4,1145.9 1840.7,1144.9 1841.0,1143.0 1841.3,1141.7 1844.2,1102.9 1847.1,1064.0 1847.2,1024.1 1851.0,975.5 1854.9,936.6 1860.8,897.8 1861.1,896.6 1861.4,894.6 1861.6,893.5 1861.9,891.7 1862.2,890.6 1862.5,888.7 1862.7,887.7 1863.0,885.8 1863.3,884.6 1863.6,882.7 1863.8,881.8 1864.1,879.9 1864.4,878.8 1864.7,876.8 1864.9,875.8 1865.2,873.9 1865.5,872.9 1865.8,870.9 1866.0,869.9 1866.3,868.0 1866.6,866.7 1867.7,866.5 1868.8,863.6 1869.9,864.3 1871.1,861.4 1872.2,862.2 1873.3,859.1 1874.4,858.9 1878.3,810.3 1883.1,752.0 1884.1,731.5 1884.4,730.2 1884.6,728.3 1884.9,727.2 1885.2,725.3 1885.4,724.1 1885.7,722.3 1885.9,721.2 1886.2,719.3 1886.5,718.2 1886.7,716.3 1887.0,715.2 1887.3,713.4 1887.5,712.2 1887.8,710.3 1888.1,709.2 1888.3,707.3 1888.6,706.2 1888.8,704.3 1889.1,703.2 1889.4,701.2 1889.6,700.1 1889.9,698.5 1890.2,696.7 1890.6,695.8 1890.9,693.8 1891.3,692.9 1891.6,690.7 1891.9,690.0 1892.3,687.8 1892.6,687.0 1893.0,684.8 1893.3,683.9 1893.7,681.8 1894.0,680.8 1894.3,678.8 1894.7,678.0 1895.0,675.9 1895.4,675.1 1895.7,673.2 1899.6,644.1 1902.5,624.6 1903.5,622.7 1904.5,623.0 1905.4,620.2 1906.4,619.8 1909.3,644.0 1912.2,692.7 1914.5,762.0 1915.2,829.7 1918.1,926.9 1920.0,1002.7 1923.0,926.9 1925.9,829.7 1927.8,771.4 1928.0,737.4 1930.7,800.6 1932.7,849.2 1935.6,890.0 1939.5,849.2 1942.4,825.9 1944.3,876.4 1946.2,878.4 1948.2,878.3 1952.1,829.7 1952.4,828.0 1952.6,826.8 1952.9,824.9 1953.1,823.7 1953.4,821.7 1953.7,820.5 1953.9,818.6 1954.2,817.4 1954.4,815.5 1954.7,814.3 1955.0,812.4 1955.2,811.3 1955.5,809.3 1955.7,808.2 1956.0,806.4 1956.3,804.7 1956.7,803.7 1957.0,801.7 1957.4,800.8 1957.7,798.7 1958.0,797.9 1958.4,795.8 1958.7,794.9 1959.1,792.7 1959.4,791.9 1959.8,789.9 1960.1,788.9 1960.4,786.9 1960.8,785.9 1961.1,783.8 1961.5,783.0 1961.8,781.2 1964.5,752.0 1966.5,731.5 1969.6,712.1 1969.9,713.3 1970.2,715.4 1970.5,716.3 1970.8,718.3 1971.1,719.3 1971.3,721.3 1971.6,722.3 1971.9,724.3 1972.2,725.3 1972.5,727.2 1972.8,728.3 1973.1,730.3 1973.4,731.3 1973.7,733.2 1974.0,734.4 1974.3,736.2 1974.5,737.3 1974.8,739.3 1975.1,740.3 1975.4,742.2 1975.7,743.2 1976.0,745.0 1983.2,673.2 1986.7,642.1 1991.0,692.7 1992.9,719.9 1996.8,673.2 2000.7,624.6 2001.5,624.0 2002.4,621.1 2003.2,621.0 2004.0,618.5 2004.8,618.3 2005.7,615.7 2006.5,614.9 2009.4,596.5 2012.4,614.9 2014.3,673.2 2020.1,712.1 2024.0,743.2 2024.4,742.0 2024.8,739.7 2025.2,739.0 2025.6,736.8 2026.0,735.8 2026.3,733.7 2026.7,732.6 2027.1,730.4 2027.5,729.6 2027.9,727.7 2028.3,728.8 2028.7,731.1 2029.1,732.1 2029.5,734.2 2029.8,735.1 2030.2,737.4 2030.6,738.1 2031.0,740.4 2031.4,741.3 2031.8,743.2 2033.5,770.0 2035.5,800.0 2037.6,835.0 2038.6,876.4 2042.5,831.7 2047.4,878.3 2047.7,880.0 2048.0,881.1 2048.3,883.1 2048.6,884.3 2048.9,886.1 2049.2,887.4 2049.5,889.3 2049.8,890.4 2050.1,892.4 2050.5,893.5 2050.8,895.5 2051.1,896.6 2051.4,898.4 2051.7,899.6 2052.0,901.5 2052.3,902.6 2052.6,904.6 2052.9,905.8 2053.2,907.5 2057.1,946.4 2057.5,948.3 2057.8,949.0 2058.2,951.3 2058.6,952.0 2058.9,954.1 2059.3,955.0 2059.7,957.2 2060.1,958.0 2060.4,960.2 2060.8,961.1 2061.2,963.2 2061.5,964.0 2061.9,965.8 2064.8,995.0 2065.1,996.7 2065.3,997.9 2065.6,999.8 2065.8,1000.9 2066.1,1002.8 2066.4,1004.0 2066.6,1005.9 2066.9,1007.1 2067.1,1009.0 2067.4,1010.2 2067.7,1012.0 2067.9,1013.2 2068.2,1015.1 2068.4,1016.3 2068.7,1018.0"/>
<polyline fill="none" stroke="#ff4040" stroke-width="6.7" stroke-linejoin="round" stroke-linecap="round" clip-path="url(#plot)" points="218.1,305.6 219.8,303.4 221.6,306.9 223.3,302.2 225.0,303.8 225.8,306.9 226.5,305.1 227.2,309.3 228.0,308.7 228.8,311.2 229.6,311.9 230.5,307.0 231.3,308.4 232.2,303.3 233.0,305.9 233.9,300.7 234.8,303.1 235.6,300.0 236.6,299.5 237.5,304.3 238.4,302.4 239.4,308.0 240.3,305.5 241.2,308.8 242.5,312.2 243.8,308.2 245.0,313.1 246.2,312.5 247.5,309.0 248.8,312.9 250.0,307.8 251.2,308.8 252.1,311.3 252.9,309.0 253.8,314.3 254.6,311.6 255.4,317.3 256.2,316.2 258.1,314.3 260.0,317.5 260.6,317.7 261.1,313.2 261.7,314.5 262.3,310.2 262.9,311.6 263.4,306.8 264.0,306.9 266.0,306.9 266.4,309.2 266.9,309.4 267.3,312.5 267.7,312.2 268.1,315.0 269.0,367.5 271.0,367.5 273.1,325.0 274.1,324.7 275.0,321.2 276.5,318.4 278.0,322.8 279.5,318.1 281.0,322.5 282.5,320.0 285.0,337.5 285.9,362.5 287.9,362.5 289.4,331.2 290.2,320.0 292.2,320.0 294.4,350.0 295.2,400.0 297.2,400.0 298.1,350.0 299.0,313.8 301.0,313.8 303.1,343.8 304.0,367.5 306.0,367.5 307.5,331.2 309.0,318.8 311.0,318.8 312.5,343.8 313.4,365.6 315.4,365.6 316.2,325.0 317.8,303.1 319.8,303.1 321.9,331.2 324.0,351.2 326.0,351.2 328.1,306.2 330.6,290.0 331.7,289.2 332.8,294.9 333.9,291.4 335.0,295.0 336.5,297.1 337.9,290.2 339.4,291.9 340.1,295.7 340.8,292.2 341.6,298.4 342.3,295.2 343.0,300.1 343.8,300.0 345.0,298.3 346.2,305.6 347.5,303.8 349.4,343.8 350.2,375.0 352.2,375.0 354.0,345.0 356.0,345.0 357.5,375.0 359.0,406.2 361.0,406.2 361.9,362.5 363.8,320.0 364.2,317.0 364.6,318.2 365.1,314.1 365.5,314.8 366.0,310.9 366.4,312.1 366.9,308.3 367.3,308.6 367.8,306.2 369.8,306.2 370.6,331.2 371.5,357.5 373.5,357.5 374.4,325.0 376.2,301.2 377.5,297.1 378.8,302.6 380.0,298.1 380.7,298.5 381.4,303.4 382.0,301.4 382.7,305.9 383.4,306.2 385.4,306.2 385.9,303.6 386.3,304.4 386.8,299.9 387.3,300.6 387.8,298.1 389.8,298.1 390.6,331.2 391.2,356.2 393.2,356.2 395.0,312.5 397.8,288.1 399.8,288.1 403.1,337.5 405.9,393.8 407.9,393.8 409.4,337.5 410.2,301.2 412.2,301.2 414.4,337.5 415.2,360.0 417.2,360.0 418.8,325.0 420.2,303.8 422.2,303.8 423.8,337.5 424.0,353.8 426.0,353.8 427.5,325.0 427.8,322.6 428.1,321.9 428.4,319.1 428.7,318.5 429.0,316.2 431.0,316.2 431.7,315.3 432.3,321.7 433.0,318.7 433.7,324.6 434.3,321.9 435.0,325.0 437.5,343.8 439.0,358.8 441.0,358.8 441.2,325.0 442.5,305.0 444.0,306.7 445.4,301.0 446.9,303.8 448.8,337.5 449.6,377.5 451.6,377.5 453.1,337.5 454.6,310.0 456.6,310.0 458.8,325.0 460.2,337.5 462.2,337.5 463.1,312.5 464.0,302.5 466.0,302.5 466.3,304.6 466.6,305.3 466.8,308.0 467.1,308.3 467.4,311.1 467.6,311.8 467.9,314.7 468.2,315.0 468.5,317.9 468.8,318.8 470.9,332.5 472.9,332.5 475.0,315.0 475.8,310.6 476.7,313.6 477.5,310.0 478.1,309.8 478.8,315.0 479.4,312.7 480.0,318.2 480.6,315.9 481.2,321.3 481.9,318.6 482.5,322.5 484.1,324.9 485.6,318.3 487.2,324.1 488.8,320.0 490.3,318.5 491.9,324.5 493.4,318.8 495.0,323.8 496.6,326.9 498.1,320.5 499.7,325.9 501.2,323.8 502.8,321.5 504.4,328.2 505.9,323.5 507.5,326.2 508.4,330.2 509.3,326.0 510.2,331.8 511.1,328.5 512.0,335.0 512.9,330.9 513.8,335.0 514.8,336.1 515.8,329.5 516.9,334.3 517.9,328.2 519.0,330.6 520.0,327.5 521.2,325.4 522.5,333.2 523.8,328.2 525.0,334.2 526.2,332.5 528.0,329.1 529.8,334.6 531.5,329.1 533.2,334.0 535.0,331.2 536.4,329.2 537.9,335.3 539.3,330.4 540.7,336.0 542.1,330.6 543.6,336.4 545.0,335.0 546.6,333.1 548.1,340.0 549.7,335.5 551.2,338.8 552.8,341.3 554.4,336.1 555.9,341.9 557.5,340.0 559.1,337.5 560.6,342.0 562.2,336.0 563.8,338.8 564.4,338.5 565.0,334.3 565.6,335.7 566.2,330.8 566.9,331.2 567.4,334.1 567.9,332.4 568.4,336.7 569.0,335.8 569.5,340.1 570.0,340.0 571.6,337.4 573.1,343.7 574.7,339.8 576.2,342.5 577.5,343.0 578.8,337.6 580.0,340.6 581.2,334.7 582.5,336.2 584.1,340.2 585.6,336.2 587.2,341.1 588.8,340.0 590.3,336.2 591.9,340.7 593.4,334.3 595.0,336.2 596.2,337.4 597.5,332.7 598.8,335.6 600.0,329.9 601.2,333.7 602.5,328.8 603.8,330.0 605.3,332.8 606.9,329.0 608.4,334.1 610.0,332.5 611.4,328.7 612.9,332.4 614.3,328.3 615.7,331.8 617.1,325.3 618.6,330.1 620.0,326.2 621.2,325.5 622.5,331.4 623.8,330.0 625.2,326.5 626.7,330.5 628.1,325.6 629.6,330.2 631.0,324.5 632.5,326.2 634.2,328.2 636.0,323.9 637.8,327.4 639.5,323.5 641.2,325.0 641.9,324.5 642.5,320.7 643.1,321.8 643.8,317.6 644.4,318.6 645.0,316.2 646.6,313.0 648.1,317.3 649.7,311.8 651.2,313.8 652.8,316.0 654.4,310.5 655.9,314.9 657.5,312.5 658.8,310.2 660.0,312.6 661.2,307.9 662.5,309.9 663.8,305.2 665.0,306.2 666.6,307.9 668.2,303.7 669.8,307.7 671.4,302.7 673.0,306.2 674.6,302.5 676.2,303.8 677.8,305.1 679.4,300.1 680.9,303.1 682.5,300.0 684.1,298.1 685.6,301.2 687.2,297.6 688.8,301.6 690.3,297.8 691.9,301.3 693.4,296.5 695.0,298.8 696.6,301.0 698.1,296.5 699.7,300.0 701.2,298.8 702.7,296.4 704.2,300.1 705.6,296.3 707.1,298.6 708.5,295.2 710.0,296.2 711.2,298.8 712.5,296.3 713.8,300.4 715.0,297.6 716.2,301.5 717.5,301.2 719.0,299.6 720.4,301.7 721.9,298.7 723.3,300.8 724.8,297.0 726.2,298.8 728.0,301.1 729.8,298.0 731.5,301.2 733.2,298.3 735.0,300.0 736.2,302.5 737.3,302.6 738.3,298.9 739.4,300.6 740.4,296.4 741.5,298.1 742.5,295.6 744.1,294.8 745.6,298.0 747.2,295.9 748.8,297.5 750.3,299.7 751.9,297.0 753.4,300.8 755.0,300.0 756.0,300.3 757.0,303.5 758.0,302.6 759.0,306.4 760.0,306.2 760.4,307.1 760.8,309.9 761.2,310.1 761.7,313.0 762.1,313.3 762.5,316.0 762.9,316.3 763.3,319.2 763.8,320.0 766.2,337.5 768.8,362.5 771.2,387.5 773.1,412.5 774.4,437.5 776.5,470.0 778.6,490.0 781.0,460.0 783.8,436.0 784.1,437.1 784.5,439.7 784.8,440.3 785.2,442.7 785.6,443.4 785.9,445.9 786.3,447.0 789.2,517.0 791.1,613.6 794.0,710.0 796.0,760.0 798.0,900.0 800.0,1038.0 802.0,900.0 804.6,760.0 808.5,671.0 814.3,575.0 819.1,517.0 819.5,515.1 819.9,514.4 820.2,511.9 820.6,511.5 821.0,508.7 821.4,508.3 821.8,505.7 822.1,505.3 822.5,502.8 822.9,501.7 823.5,501.0 824.0,498.2 824.5,498.3 825.1,495.1 825.7,495.4 826.2,493.0 826.6,494.0 826.9,496.5 827.3,497.0 827.6,499.5 828.0,500.2 828.3,502.6 828.7,503.6 830.6,536.0 832.6,594.0 834.5,671.0 835.2,760.0 835.9,968.0 837.0,900.0 839.3,760.0 841.3,671.0 843.2,575.0 845.1,498.0 845.0,457.1 846.9,425.0 850.0,400.0 853.8,375.0 854.2,373.0 854.7,372.3 855.2,369.6 855.6,369.2 856.1,366.8 856.6,366.1 857.0,363.3 857.5,362.5 858.1,361.5 858.8,358.8 859.4,358.8 860.0,355.7 860.6,355.6 861.2,352.3 861.9,352.5 862.5,350.0 863.0,347.7 863.5,347.7 864.0,344.7 864.5,344.4 865.0,341.7 865.5,341.7 866.0,338.8 866.5,338.5 867.0,335.7 867.5,335.0 868.4,335.1 869.3,331.7 870.2,332.2 871.1,328.9 872.0,330.0 872.9,326.6 873.8,326.2 874.6,325.8 875.5,322.9 876.4,323.6 877.3,320.0 878.2,321.0 879.1,317.8 880.0,317.5 881.6,317.7 883.1,314.5 884.7,315.8 886.2,313.8 887.8,312.5 889.4,314.4 890.9,311.2 892.5,313.7 894.1,310.7 895.6,312.8 897.2,310.2 898.8,311.2 900.2,311.8 901.7,308.2 903.1,310.0 904.6,306.7 906.0,308.4 907.5,306.2 908.9,304.0 910.4,305.8 911.8,303.2 913.2,304.9 914.6,301.1 916.1,303.3 917.5,301.2 918.9,299.5 920.4,301.7 921.8,298.6 923.2,300.2 924.6,297.5 926.1,299.4 927.5,297.5 929.0,296.8 930.5,299.6 932.0,297.5 933.5,301.3 935.0,300.0 936.5,298.1 938.0,300.0 939.5,296.5 941.0,298.7 942.5,296.2 943.9,294.0 945.3,295.7 946.7,292.6 948.1,293.9 949.4,290.7 950.8,292.5 952.2,289.3 953.6,290.9 955.0,288.8 956.2,286.5 957.5,288.4 958.8,284.7 960.0,286.6 961.2,283.8 962.8,281.7 964.4,284.1 965.9,280.4 967.5,283.1 969.1,278.8 970.6,281.5 972.2,277.9 973.8,278.8 975.0,279.4 976.2,275.0 977.5,277.1 978.8,273.1 980.0,273.8 981.6,276.4 983.1,273.5 984.7,276.9 986.2,276.2 987.5,274.0 988.8,275.9 990.0,271.6 991.2,274.2 992.5,271.2 994.0,268.6 995.5,271.1 997.1,267.7 998.6,269.6 1000.1,267.5 1001.0,268.1 1001.9,272.0 1002.8,270.7 1003.8,273.8 1005.2,275.3 1006.8,271.4 1008.2,274.3 1009.8,270.3 1011.2,271.2 1012.2,271.3 1013.1,267.1 1014.1,268.5 1015.0,265.2 1015.9,266.7 1016.9,262.5 1017.8,263.8 1018.8,261.2 1019.8,260.7 1020.9,265.1 1022.0,263.5 1023.1,267.0 1024.2,265.2 1025.3,269.3 1026.4,267.7 1027.5,270.0 1028.8,270.8 1030.0,266.0 1031.2,268.7 1032.5,264.6 1033.8,266.5 1035.0,263.0 1036.2,265.3 1037.5,262.5 1038.8,262.1 1040.0,266.3 1041.2,262.9 1042.5,267.1 1043.8,264.5 1045.0,267.5 1046.5,268.2 1047.9,263.8 1049.4,267.0 1050.8,262.7 1052.3,265.3 1053.8,262.5 1055.0,261.7 1056.2,266.6 1057.5,264.2 1058.8,268.6 1060.0,265.5 1061.2,268.8 1062.8,270.8 1064.2,266.9 1065.8,270.1 1067.2,266.9 1068.8,268.8 1069.8,271.3 1070.9,269.0 1072.0,273.8 1073.0,271.3 1074.1,275.4 1075.2,273.3 1076.2,276.2 1077.2,276.3 1078.1,272.0 1079.1,273.4 1080.0,270.0 1081.7,268.8 1083.3,273.1 1085.0,272.5 1085.3,273.3 1085.6,275.9 1085.9,276.5 1086.2,279.1 1086.6,279.4 1086.9,282.1 1087.2,282.4 1087.5,285.0 1087.8,285.5 1088.1,287.5 1090.0,312.5 1091.9,337.5 1093.8,362.5 1095.6,383.1 1096.2,382.7 1096.9,379.4 1097.5,380.3 1098.1,377.5 1098.8,374.6 1099.4,375.3 1100.0,372.5 1101.9,356.2 1104.4,338.8 1106.9,356.2 1107.8,353.2 1108.6,355.2 1109.5,351.2 1110.4,352.7 1111.2,350.0 1112.9,346.8 1114.6,349.6 1116.2,347.5 1116.6,345.4 1116.9,345.1 1117.3,342.3 1117.6,342.2 1118.0,339.6 1118.3,339.2 1118.6,336.5 1119.0,336.4 1119.3,333.6 1119.7,333.5 1120.0,331.2 1120.4,329.1 1120.8,328.8 1121.2,326.0 1121.7,325.6 1122.1,322.5 1122.5,322.7 1122.9,319.7 1123.3,319.3 1123.8,316.5 1124.2,316.5 1124.6,313.2 1125.0,312.5 1125.4,311.8 1125.8,308.8 1126.1,308.5 1126.5,305.9 1126.9,305.6 1127.2,302.8 1127.6,302.7 1128.0,299.9 1128.4,299.6 1128.8,297.5 1129.2,295.0 1129.7,295.2 1130.1,292.0 1130.6,292.7 1131.0,289.0 1131.5,289.5 1131.9,286.2 1132.4,286.6 1132.8,283.2 1133.3,283.9 1133.8,281.2 1134.1,279.0 1134.5,278.5 1134.8,275.7 1135.2,275.4 1135.5,272.6 1135.9,272.3 1136.2,270.0 1136.9,271.2 1137.3,272.0 1137.8,275.2 1138.3,274.4 1138.8,277.9 1139.2,277.4 1139.7,280.7 1140.2,280.5 1140.7,282.7 1141.0,281.7 1141.3,279.4 1141.6,278.7 1141.9,276.1 1142.2,275.7 1142.5,273.2 1142.7,272.8 1143.0,270.0 1143.3,269.5 1143.6,267.7 1144.0,268.6 1144.3,271.3 1144.6,272.0 1144.9,274.4 1145.2,275.1 1145.5,277.5 1145.8,278.2 1146.1,280.3 1146.6,279.9 1147.1,276.3 1147.6,276.7 1148.1,273.0 1148.6,273.1 1149.1,270.9 1149.5,271.4 1150.0,274.6 1150.4,274.3 1150.8,277.6 1151.2,277.3 1151.6,280.4 1152.0,280.2 1152.4,283.6 1152.8,284.1 1153.1,282.0 1153.3,281.3 1153.6,278.9 1153.9,278.2 1154.1,275.9 1154.4,274.9 1154.7,272.7 1154.9,271.7 1155.2,269.5 1155.5,268.6 1155.8,266.7 1156.1,267.3 1156.5,270.3 1156.9,270.4 1157.3,273.3 1157.7,273.4 1158.0,275.4 1158.5,274.8 1159.0,271.4 1159.5,271.8 1159.9,268.8 1160.4,269.2 1160.9,265.5 1161.4,265.1 1161.9,267.6 1162.5,267.3 1163.1,270.9 1163.7,270.3 1164.2,273.8 1164.8,273.9 1165.4,276.1 1165.9,275.3 1166.4,272.0 1166.8,272.3 1167.3,269.2 1167.8,269.3 1168.3,266.4 1168.8,265.6 1169.3,268.0 1169.9,267.9 1170.4,271.2 1171.0,271.3 1171.6,274.3 1172.1,275.2 1174.3,260.3 1176.5,282.9 1179.0,260.1 1180.0,262.5 1184.0,223.8 1186.0,223.8 1187.8,268.8 1189.8,268.8 1192.5,230.0 1193.8,227.4 1195.0,229.2 1196.2,226.2 1199.0,270.0 1201.0,270.0 1203.1,225.0 1205.2,198.1 1207.2,198.1 1208.8,237.5 1210.2,285.6 1212.2,285.6 1213.8,237.5 1214.6,207.5 1216.6,207.5 1217.5,237.5 1217.8,275.0 1219.8,275.0 1221.2,247.5 1222.7,246.6 1224.2,249.6 1225.6,247.0 1227.1,250.9 1228.5,247.5 1230.0,250.0 1231.2,250.3 1232.5,246.5 1233.8,248.8 1235.0,246.2 1237.8,265.0 1239.8,265.0 1241.5,246.2 1243.5,246.2 1243.8,247.4 1244.0,249.8 1244.3,250.3 1244.6,252.5 1244.9,253.2 1245.1,255.4 1245.4,256.1 1245.7,258.4 1246.0,259.2 1246.2,261.3 1246.5,262.5 1248.5,262.5 1248.8,260.4 1249.2,259.9 1249.5,257.3 1249.8,256.9 1250.1,254.1 1250.5,253.7 1250.8,251.3 1251.1,250.6 1251.4,248.0 1251.8,247.7 1252.1,245.1 1252.4,244.4 1252.8,242.5 1254.8,242.5 1255.6,262.5 1256.5,288.8 1258.5,288.8 1260.0,256.2 1261.5,235.0 1263.5,235.0 1266.2,262.5 1266.8,262.8 1267.4,266.7 1268.0,265.7 1268.5,268.9 1269.1,268.9 1269.7,271.8 1270.2,272.5 1272.2,272.5 1274.4,231.2 1276.5,198.8 1278.5,198.8 1279.4,231.2 1280.2,268.8 1282.2,268.8 1283.8,225.0 1285.2,196.2 1287.2,196.2 1289.4,231.2 1291.5,260.0 1293.5,260.0 1295.0,231.2 1295.6,219.8 1295.9,221.1 1296.2,223.2 1296.5,224.2 1296.8,226.5 1297.1,227.1 1297.4,229.5 1297.7,230.2 1298.0,232.7 1298.2,233.3 1298.5,235.9 1298.8,236.4 1299.1,238.8 1299.4,240.1 1302.4,198.3 1304.9,223.5 1307.9,200.1 1311.5,232.9 1314.5,209.1 1316.8,241.6 1317.1,239.7 1317.3,239.0 1317.6,236.5 1317.9,235.8 1318.2,233.7 1318.5,233.0 1318.7,230.7 1319.0,229.9 1319.3,227.7 1319.6,227.0 1319.8,224.5 1320.1,223.5 1324.1,259.1 1324.4,257.9 1324.8,255.4 1325.1,254.9 1325.4,252.3 1325.7,251.7 1326.0,249.1 1326.3,248.5 1326.6,246.1 1326.9,245.4 1327.2,242.9 1327.5,241.9 1330.9,263.0 1331.2,262.0 1331.6,259.5 1331.9,258.9 1332.3,256.2 1332.7,256.0 1333.0,253.9 1335.2,268.2 1335.6,265.8 1336.1,265.4 1336.5,262.6 1336.9,262.0 1337.3,259.2 1337.7,258.2 1338.2,260.3 1338.8,260.2 1339.3,263.7 1339.9,263.0 1340.4,266.2 1341.0,267.0 1341.4,264.9 1341.9,265.1 1342.3,261.8 1342.8,262.3 1343.3,258.8 1343.7,258.4 1344.5,261.0 1345.2,259.8 1346.0,264.1 1346.7,263.2 1347.5,265.7 1348.1,265.0 1348.7,261.8 1349.4,261.8 1350.0,259.3 1350.8,259.6 1351.5,263.5 1352.3,263.2 1353.1,266.1 1353.8,265.6 1354.6,262.5 1355.3,262.0 1356.2,264.9 1357.1,263.8 1358.0,266.4 1359.3,266.6 1360.7,263.3 1362.0,263.7 1362.7,266.3 1363.4,265.1 1364.1,268.5 1364.8,268.1 1365.5,270.4 1366.0,269.7 1366.4,266.6 1366.9,266.3 1367.3,263.4 1367.7,263.2 1368.2,260.1 1368.6,260.0 1369.1,257.6 1369.4,258.9 1369.6,261.1 1369.9,262.1 1370.2,264.2 1370.4,265.1 1370.7,267.4 1371.0,268.5 1371.2,270.7 1371.5,271.6 1371.8,273.5 1372.2,272.7 1372.7,269.7 1373.1,269.2 1373.6,266.4 1374.0,266.1 1374.5,262.9 1375.0,262.0 1375.3,264.2 1375.7,264.3 1376.0,267.2 1376.4,267.4 1376.8,270.0 1377.1,270.4 1377.5,272.8 1377.8,273.9 1378.2,271.5 1378.6,271.3 1379.1,268.3 1379.5,267.8 1379.9,265.1 1380.3,264.7 1380.7,262.5 1384.4,293.8 1387.0,255.7 1387.2,256.8 1387.5,259.0 1387.8,259.9 1388.1,262.1 1388.3,262.9 1388.6,265.1 1388.9,265.8 1389.1,268.1 1389.4,268.8 1389.7,271.2 1390.0,272.3 1390.4,270.2 1390.8,269.8 1391.2,266.8 1391.6,266.7 1392.0,264.0 1392.4,263.5 1392.8,261.5 1396.1,295.0 1399.7,273.0 1402.4,311.1 1405.2,271.6 1408.8,301.9 1411.1,285.7 1413.4,318.7 1416.4,276.4 1418.9,302.2 1421.3,286.2 1422.5,300.0 1425.1,364.0 1425.9,361.6 1426.6,361.8 1427.4,357.9 1428.2,357.8 1429.8,359.6 1431.3,357.8 1433.7,429.9 1436.1,364.0 1437.6,326.6 1441.4,380.3 1444.4,317.2 1446.9,366.5 1449.9,317.7 1453.5,379.3 1456.5,307.9 1458.8,358.7 1462.1,319.7 1466.1,357.2 1469.5,317.4 1472.9,372.7 1475.0,324.6 1477.2,395.0 1479.7,322.9 1483.0,379.4 1485.7,326.0 1489.4,368.2 1492.0,322.3 1495.1,364.3 1497.3,346.5 1500.0,387.8 1504.0,340.6 1507.5,384.0 1511.1,331.7 1513.7,352.7 1516.9,331.2 1519.8,365.9 1522.7,323.1 1526.4,413.4 1528.9,320.8 1532.0,362.2 1534.8,317.6 1538.0,410.2 1541.7,324.7 1544.4,390.8 1544.8,388.5 1545.3,388.3 1545.7,385.5 1546.1,385.2 1546.5,382.3 1546.9,381.8 1547.3,379.7 1550.5,442.4 1551.7,570.0 1554.0,650.0 1555.4,711.0 1557.0,650.0 1560.0,570.0 1561.0,487.0 1563.1,408.4 1567.8,364.0 1571.2,424.0 1572.4,518.0 1573.0,575.0 1573.8,625.0 1576.0,662.0 1576.4,663.0 1576.7,665.7 1577.1,666.1 1577.4,668.6 1577.8,669.3 1578.1,671.7 1578.5,672.3 1578.8,675.0 1579.2,676.0 1581.4,662.0 1582.2,625.0 1583.2,575.0 1584.0,486.7 1586.4,439.7 1589.9,400.5 1590.8,399.2 1593.4,424.3 1597.1,387.2 1600.5,411.5 1602.6,371.5 1606.2,416.8 1609.6,364.2 1611.9,392.9 1615.7,362.6 1618.9,391.3 1621.5,374.6 1624.0,416.1 1626.4,374.3 1628.9,421.1 1631.2,378.2 1634.2,422.5 1636.3,364.9 1638.8,418.0 1642.8,361.2 1646.6,400.4 1649.3,358.1 1649.8,359.0 1650.3,361.8 1650.9,361.9 1651.4,364.2 1651.9,364.5 1652.4,366.6 1652.9,365.4 1653.3,363.0 1653.7,362.2 1654.1,359.9 1654.5,359.1 1654.9,356.6 1655.3,355.8 1655.8,353.8 1656.1,355.0 1656.5,357.3 1656.9,357.9 1657.3,360.3 1657.6,361.2 1658.0,363.4 1658.4,364.2 1658.8,366.4 1659.1,367.3 1659.5,369.2 1660.0,371.3 1660.4,371.8 1660.9,374.5 1661.4,374.8 1661.8,377.6 1662.3,378.1 1662.8,380.5 1663.3,381.3 1663.7,383.8 1664.2,384.9 1668.9,417.8 1669.9,418.5 1670.9,421.8 1671.8,421.7 1672.8,424.0 1676.7,397.4 1677.8,397.2 1678.8,394.0 1679.9,393.5 1680.5,395.5 1681.1,395.6 1681.6,398.6 1682.2,398.8 1682.8,401.3 1683.4,401.6 1684.0,404.2 1684.6,405.2 1687.7,439.7 1690.8,486.7 1695.5,533.8 1700.3,572.9 1700.6,574.3 1700.9,576.4 1701.3,577.4 1701.6,579.4 1701.9,580.6 1702.3,582.6 1702.6,583.9 1705.7,549.4 1709.7,518.1 1714.4,486.7 1715.3,484.5 1716.2,484.9 1717.2,481.8 1718.1,482.5 1719.1,479.2 1720.0,478.9 1718.9,480.8 1719.1,482.5 1719.4,483.7 1719.7,485.5 1720.0,486.7 1720.2,488.6 1720.5,489.7 1720.8,491.6 1721.0,492.8 1721.3,494.6 1721.6,495.8 1721.8,497.7 1722.1,498.8 1722.4,500.7 1722.7,501.8 1722.9,503.7 1723.2,504.8 1723.5,506.8 1723.7,508.0 1726.6,556.6 1728.6,614.9 1730.9,653.8 1732.5,676.2 1734.4,653.8 1737.3,605.2 1740.3,579.9 1741.0,577.5 1741.8,577.6 1742.6,574.7 1743.4,574.2 1744.1,572.2 1744.9,572.9 1745.7,576.1 1746.5,576.2 1747.2,579.2 1748.0,579.9 1748.4,581.1 1748.8,583.3 1749.2,584.3 1749.6,586.4 1750.0,587.3 1750.4,589.7 1750.7,590.4 1751.1,592.7 1751.5,593.6 1751.9,595.5 1757.7,634.4 1763.6,683.0 1769.4,731.5 1770.4,771.4 1772.3,790.9 1772.8,793.0 1773.4,793.3 1773.9,795.9 1774.4,796.4 1774.9,798.9 1775.5,799.5 1776.0,801.7 1776.5,802.3 1777.0,805.0 1777.6,805.3 1778.1,807.8 1778.6,808.4 1779.1,810.3 1783.0,839.5 1783.4,841.3 1783.7,842.2 1784.1,844.3 1784.4,845.2 1784.7,847.3 1785.1,848.4 1785.4,850.5 1785.8,851.4 1786.1,853.6 1786.5,854.4 1786.8,856.7 1787.2,857.5 1787.5,859.5 1787.9,860.8 1788.2,859.0 1788.5,858.0 1788.8,855.9 1789.2,854.9 1789.5,852.8 1789.8,851.9 1790.1,849.8 1790.5,848.7 1790.8,846.6 1791.1,845.6 1791.4,843.4 1791.8,842.5 1792.1,840.3 1792.4,839.3 1792.7,837.5 1793.3,838.3 1793.8,840.8 1794.3,841.3 1794.9,843.8 1795.4,844.1 1795.9,846.5 1796.4,846.7 1797.0,849.5 1797.5,849.8 1798.0,852.1 1798.6,853.1 1802.4,888.1 1806.3,926.9 1810.2,956.1 1810.6,954.3 1811.0,953.3 1811.3,951.3 1811.7,950.6 1812.1,948.4 1812.5,947.4 1812.8,945.3 1813.2,944.4 1813.6,942.3 1814.0,941.5 1814.3,939.2 1814.7,938.5 1815.1,936.6 1815.7,934.5 1816.3,934.1 1816.9,931.8 1817.5,931.6 1818.1,928.9 1818.7,928.4 1819.3,925.9 1819.9,925.0 1823.8,897.8 1824.1,896.4 1824.4,894.4 1824.7,893.3 1825.1,891.4 1825.4,890.4 1825.7,888.4 1826.0,887.3 1826.3,885.3 1826.6,884.3 1826.9,882.1 1827.2,881.2 1827.5,879.2 1827.8,878.0 1828.1,876.0 1828.4,875.0 1828.7,873.0 1829.0,872.0 1829.4,869.8 1829.7,868.6 1830.0,867.3 1830.3,865.2 1830.6,864.3 1830.9,862.3 1831.2,861.1 1831.5,859.2 1831.8,858.2 1832.1,856.1 1832.4,855.0 1832.7,853.1 1833.0,851.9 1833.3,850.0 1833.6,849.0 1834.0,847.0 1834.3,845.8 1834.6,843.7 1834.9,842.9 1835.2,840.7 1835.5,839.5 1841.3,800.6 1847.2,752.0 1851.0,721.8 1854.9,696.6 1855.5,695.6 1856.1,693.1 1856.7,692.9 1857.4,690.2 1858.0,689.9 1858.6,687.3 1859.2,686.7 1859.8,684.4 1860.4,684.1 1861.0,681.3 1861.6,681.1 1862.2,678.5 1862.8,678.2 1863.4,675.6 1864.0,675.3 1864.6,673.2 1865.3,671.1 1866.0,671.0 1866.7,668.4 1867.4,668.5 1868.1,665.5 1868.8,665.4 1869.5,662.7 1870.2,662.9 1870.9,660.2 1871.6,659.9 1872.3,657.4 1873.0,657.0 1873.7,654.3 1874.4,653.8 1878.3,624.6 1882.1,599.4 1883.3,599.0 1884.5,596.0 1885.6,596.5 1886.8,594.2 1888.0,593.5 1891.9,564.4 1892.3,563.5 1892.8,560.9 1893.3,560.6 1893.8,558.0 1894.3,557.6 1894.8,555.1 1895.3,554.5 1895.7,552.3 1896.2,551.7 1896.7,549.5 1897.2,548.8 1897.7,546.9 1898.0,545.2 1898.4,544.2 1898.7,542.2 1899.1,541.2 1899.4,539.2 1899.7,538.3 1900.1,536.1 1900.4,535.4 1900.8,533.2 1901.1,532.4 1901.5,530.3 1901.8,529.5 1902.1,527.3 1902.5,526.3 1902.8,524.3 1903.2,523.5 1903.5,521.6 1904.1,519.7 1904.7,519.3 1905.3,516.8 1905.9,516.5 1906.6,513.8 1907.2,513.4 1907.8,510.9 1908.4,510.0 1913.2,541.1 1916.7,595.5 1919.1,663.5 1921.2,748.1 1923.1,673.2 1926.8,609.1 1932.7,663.5 1936.6,704.3 1940.4,653.8 1940.7,652.4 1941.0,650.2 1941.3,649.0 1941.6,647.0 1941.8,645.7 1942.1,643.7 1942.4,642.1 1942.8,644.0 1943.2,644.7 1943.6,647.2 1944.1,648.0 1944.5,650.2 1944.9,651.0 1945.3,653.3 1945.7,654.0 1946.1,656.2 1946.6,657.0 1947.0,659.4 1947.4,660.1 1947.8,662.4 1948.2,663.5 1952.1,634.4 1952.7,632.3 1953.3,631.9 1953.9,629.4 1954.5,628.9 1955.1,626.4 1955.7,625.9 1956.3,623.3 1956.9,623.1 1957.5,620.3 1958.1,619.8 1958.7,617.5 1959.3,616.9 1959.9,614.9 1960.2,613.2 1960.4,612.1 1960.7,610.2 1961.0,609.1 1961.2,607.2 1961.5,606.0 1961.8,604.1 1962.0,603.1 1962.3,601.1 1962.6,600.0 1962.9,598.1 1963.1,597.0 1963.4,595.0 1963.7,594.0 1963.9,592.0 1964.2,590.9 1964.5,589.0 1964.7,587.7 1965.0,589.4 1965.3,590.5 1965.6,592.5 1965.8,593.6 1966.1,595.4 1966.4,596.5 1966.6,598.5 1966.9,599.7 1967.2,601.5 1967.4,602.7 1967.7,604.5 1968.0,605.6 1968.3,607.5 1968.5,608.7 1968.8,610.6 1969.1,611.7 1969.3,613.6 1969.6,614.9 1973.5,673.2 1975.4,731.5 1976.5,800.0 1977.4,842.0 1978.5,800.0 1979.5,752.0 1979.3,692.7 1982.2,576.1 1983.2,573.8 1984.2,573.9 1985.2,571.0 1986.1,570.2 1991.0,603.3 1996.8,564.4 1997.6,563.5 1998.5,560.7 1999.3,561.0 2000.1,558.3 2001.0,558.1 2001.8,555.3 2002.6,554.7 2003.3,553.9 2003.9,551.3 2004.6,550.5 2005.2,548.1 2005.9,547.6 2006.5,544.9 2007.2,544.8 2007.8,542.1 2008.5,541.1 2008.8,542.8 2009.2,543.7 2009.5,545.9 2009.8,546.8 2010.2,548.8 2010.5,549.8 2010.9,551.8 2011.2,552.8 2011.6,554.8 2011.9,555.6 2012.2,557.7 2012.6,558.7 2012.9,560.6 2013.3,561.6 2013.6,563.7 2014.0,564.6 2014.3,566.3 2014.6,568.0 2014.8,569.2 2015.1,571.2 2015.3,572.4 2015.6,574.3 2015.9,575.5 2016.1,577.4 2016.4,578.6 2016.6,580.5 2016.9,581.7 2017.2,583.6 2017.4,584.8 2017.7,586.8 2017.9,587.9 2018.2,589.7 2018.4,591.4 2018.7,592.6 2019.0,594.4 2019.2,595.6 2019.5,597.5 2019.7,598.7 2020.0,600.6 2020.2,601.8 2020.5,603.7 2020.7,604.8 2021.0,606.7 2021.3,607.8 2021.5,609.8 2021.8,611.0 2022.0,612.8 2022.3,614.1 2022.5,615.9 2022.8,617.1 2023.1,618.8 2023.4,617.7 2023.7,615.5 2024.1,614.6 2024.4,612.6 2024.8,611.6 2025.1,609.7 2025.5,608.6 2025.8,606.7 2026.1,605.8 2026.5,603.7 2026.8,602.7 2027.2,600.7 2027.5,599.8 2027.9,597.7 2028.2,596.8 2028.5,594.7 2028.9,593.5 2032.8,624.6 2035.7,663.5 2038.6,688.8 2038.9,687.5 2039.2,685.6 2039.5,684.6 2039.7,682.7 2040.0,681.6 2040.3,679.7 2040.6,678.6 2040.9,676.7 2041.2,675.6 2041.5,673.7 2041.7,672.6 2042.0,670.7 2042.3,669.7 2042.6,667.8 2042.9,666.7 2043.2,664.8 2043.5,663.5 2046.4,692.7 2046.9,694.7 2047.3,695.3 2047.8,697.7 2048.3,698.4 2048.8,701.0 2049.3,701.6 2049.8,704.1 2050.3,704.7 2050.7,707.0 2051.2,708.2 2055.1,735.4 2055.9,736.2 2056.6,738.9 2057.3,739.1 2058.0,741.9 2058.8,742.3 2059.5,744.8 2060.2,744.9 2061.0,747.1 2061.4,749.1 2061.9,749.8 2062.4,752.3 2062.9,752.9 2063.4,755.3 2063.9,756.0 2064.4,758.5 2064.8,759.2 2065.3,761.4 2065.8,762.6 2066.1,764.1 2066.4,766.2 2066.6,767.5 2066.9,769.5 2067.2,770.8 2067.5,772.8 2067.8,774.3"/>
<polyline fill="none" stroke="#ff4040" stroke-width="6.7" stroke-linecap="round" stroke-linejoin="round" points="1557.2,452.0 1556.2,560.0 1555.6,694.0"/>
<polyline fill="none" stroke="#ff4040" stroke-width="6.7" stroke-linecap="round" stroke-linejoin="round" points="1578.0,536.0 1578.4,600.0 1578.9,662.0"/>
<line x1="797.0" y1="390.0" x2="797.0" y2="1166.9" stroke="#ff0000" stroke-width="6.8" stroke-dasharray="8.9 23.1"/>
<line x1="834.0" y1="358.1" x2="834.0" y2="1135.0" stroke="#ff0000" stroke-width="6.8" stroke-dasharray="8.9 23.1"/>
<line x1="1702.7" y1="509.8" x2="1702.7" y2="870.7" stroke="#ff0000" stroke-width="6.8" stroke-dasharray="8.9 23.1"/>
<line x1="1734.0" y1="541.9" x2="1734.0" y2="1062.8" stroke="#ff0000" stroke-width="6.8" stroke-dasharray="8.9 23.1"/>
<line x1="1810.1" y1="834.0" x2="1810.1" y2="1354.9" stroke="#ff0000" stroke-width="6.8" stroke-dasharray="8.9 23.1"/>
<rect x="1699.3" y="485.7" width="6.8" height="1.1" fill="#ff0000"/>
<rect x="1904" y="448" width="105" height="570.3" fill="#ff0000" fill-opacity="0.1"/>
<g fill="#000000">
<rect x="215" y="42.3" width="6.1" height="1435.6"/>
<rect x="2093.3" y="42.3" width="6.1" height="1435.6"/>
<rect x="215" y="42.3" width="1884.4" height="4"/>
<rect x="215" y="1473.9" width="1884.4" height="4"/>
<rect x="221" y="151.65" width="22.6" height="4.2"/>
<rect x="221" y="261.85" width="9.4" height="4.2"/>
<rect x="221" y="372.05" width="22.6" height="4.2"/>
<rect x="221" y="482.25" width="9.4" height="4.2"/>
<rect x="221" y="592.45" width="22.6" height="4.2"/>
<rect x="221" y="702.65" width="9.4" height="4.2"/>
<rect x="221" y="812.85" width="22.6" height="4.2"/>
<rect x="221" y="923.05" width="9.4" height="4.2"/>
<rect x="221" y="1033.25" width="22.6" height="4.2"/>
<rect x="221" y="1143.45" width="9.4" height="4.2"/>
<rect x="221" y="1253.65" width="22.6" height="4.2"/>
<rect x="221" y="1363.85" width="9.4" height="4.2"/>
<rect x="221" y="1474.05" width="22.6" height="4.2"/>
<rect x="349.62" y="1465.0" width="5" height="9.0"/>
<rect x="483.75" y="1455.0" width="5" height="19.0"/>
<rect x="617.88" y="1465.0" width="5" height="9.0"/>
<rect x="752.00" y="1455.0" width="5" height="19.0"/>
<rect x="886.12" y="1465.0" width="5" height="9.0"/>
<rect x="1020.25" y="1455.0" width="5" height="19.0"/>
<rect x="1154.38" y="1465.0" width="5" height="9.0"/>
<rect x="1288.50" y="1455.0" width="5" height="19.0"/>
<rect x="1422.62" y="1465.0" width="5" height="9.0"/>
<rect x="1556.75" y="1455.0" width="5" height="19.0"/>
<rect x="1690.88" y="1465.0" width="5" height="9.0"/>
<rect x="1825.00" y="1455.0" width="5" height="19.0"/>
<rect x="1959.12" y="1465.0" width="5" height="9.0"/>
</g>
<g stroke="#000" fill="#000">
<line x1="576.2" y1="342.5" x2="567.5" y2="294" stroke-width="1.7"/>
<polygon points="563.5,266.9 558.5,295.6 576.9,293.5" stroke="none"/>
<line x1="559.4" y1="407" x2="552.4" y2="468" stroke-width="1.7"/>
<polygon points="549.4,495.6 543.1,467.5 561.3,468.8" stroke="none"/>
<line x1="1575.6" y1="691" x2="1577" y2="923" stroke-width="1.3"/>
<polygon points="1577.1,951 1568,922.5 1586.7,922.5" stroke="none"/>
</g>
<polygon fill="#4d4d4d" points="1395.8,95.3 1398.4,92.7 1518.6,92.7 1521.2,95.3 1518.6,97.89999999999999 1398.4,97.89999999999999"/>
<polygon fill="#ff4040" points="1395.8,144.1 1398.4,141.5 1518.6,141.5 1521.2,144.1 1518.6,146.7 1398.4,146.7"/>
<text x="1533.6" y="107.3" font-size="39.6" font-family="'Liberation Serif',serif" text-anchor="start" textLength="281.5" lengthAdjust="spacingAndGlyphs" fill="#000" >before testing</text>
<text x="1531.8" y="156.9" font-size="39.8" font-family="'Liberation Serif',serif" text-anchor="start" textLength="482" lengthAdjust="spacingAndGlyphs" fill="#000" >10 MPa, -10 V vs.OCP</text>
<text x="101" y="167.3" font-size="45.5" font-family="'Liberation Serif',serif" text-anchor="start" textLength="87" lengthAdjust="spacingAndGlyphs" fill="#000" >100</text>
<text x="128.5" y="387.4" font-size="45.5" font-family="'Liberation Serif',serif" text-anchor="start" textLength="59.5" lengthAdjust="spacingAndGlyphs" fill="#000" >95</text>
<text x="128.5" y="607.5" font-size="45.5" font-family="'Liberation Serif',serif" text-anchor="start" textLength="59.5" lengthAdjust="spacingAndGlyphs" fill="#000" >90</text>
<text x="128.5" y="827.7" font-size="45.5" font-family="'Liberation Serif',serif" text-anchor="start" textLength="59.5" lengthAdjust="spacingAndGlyphs" fill="#000" >85</text>
<text x="128.5" y="1047.8" font-size="45.5" font-family="'Liberation Serif',serif" text-anchor="start" textLength="59.5" lengthAdjust="spacingAndGlyphs" fill="#000" >80</text>
<text x="128.5" y="1267.9" font-size="45.5" font-family="'Liberation Serif',serif" text-anchor="start" textLength="59.5" lengthAdjust="spacingAndGlyphs" fill="#000" >75</text>
<text x="128.5" y="1488.0" font-size="45.5" font-family="'Liberation Serif',serif" text-anchor="start" textLength="59.5" lengthAdjust="spacingAndGlyphs" fill="#000" >70</text>
<text x="159.5" y="1531.2" font-size="44.5" font-family="'Liberation Serif',serif" text-anchor="start" textLength="116" lengthAdjust="spacingAndGlyphs" fill="#000" >4000</text>
<text x="427.8" y="1531.2" font-size="44.5" font-family="'Liberation Serif',serif" text-anchor="start" textLength="116" lengthAdjust="spacingAndGlyphs" fill="#000" >3500</text>
<text x="696.0" y="1531.2" font-size="44.5" font-family="'Liberation Serif',serif" text-anchor="start" textLength="116" lengthAdjust="spacingAndGlyphs" fill="#000" >3000</text>
<text x="964.2" y="1531.2" font-size="44.5" font-family="'Liberation Serif',serif" text-anchor="start" textLength="116" lengthAdjust="spacingAndGlyphs" fill="#000" >2500</text>
<text x="1232.5" y="1531.2" font-size="44.5" font-family="'Liberation Serif',serif" text-anchor="start" textLength="116" lengthAdjust="spacingAndGlyphs" fill="#000" >2000</text>
<text x="1502.3" y="1531.2" font-size="44.5" font-family="'Liberation Serif',serif" text-anchor="start" textLength="116" lengthAdjust="spacingAndGlyphs" fill="#000" >1500</text>
<text x="1770.6" y="1531.2" font-size="44.5" font-family="'Liberation Serif',serif" text-anchor="start" textLength="116" lengthAdjust="spacingAndGlyphs" fill="#000" >1000</text>
<text x="2051.8" y="1531.2" font-size="44.5" font-family="'Liberation Serif',serif" text-anchor="start" textLength="87" lengthAdjust="spacingAndGlyphs" fill="#000" >500</text>
<text x="494.0" y="234.4" font-size="45.5" font-family="'Liberation Serif',serif" text-anchor="start" textLength="117.5" lengthAdjust="spacingAndGlyphs" fill="#000" >3339</text>
<text x="488.4" y="546.2" font-size="45.5" font-family="'Liberation Serif',serif" text-anchor="start" textLength="117.5" lengthAdjust="spacingAndGlyphs" fill="#000" >3366</text>
<text x="696.2" y="1224.6" font-size="45.5" font-family="'Liberation Serif',serif" text-anchor="start" textLength="117.5" lengthAdjust="spacingAndGlyphs" fill="#000" >2915</text>
<text x="850.9" y="1108.9" font-size="45.5" font-family="'Liberation Serif',serif" text-anchor="start" textLength="119.5" lengthAdjust="spacingAndGlyphs" fill="#000" >2848</text>
<text x="1394.7" y="584.7" font-size="45.5" font-family="'Liberation Serif',serif" text-anchor="start" textLength="117.5" lengthAdjust="spacingAndGlyphs" fill="#000" >1606</text>
<text x="1400.7" y="919.5" font-size="45.5" font-family="'Liberation Serif',serif" text-anchor="start" textLength="117.5" lengthAdjust="spacingAndGlyphs" fill="#000" >1507</text>
<text x="1525.1" y="1004" font-size="45.5" font-family="'Liberation Serif',serif" text-anchor="start" textLength="117.5" lengthAdjust="spacingAndGlyphs" fill="#000" >1462</text>
<text x="1584.0" y="898.9" font-size="45.5" font-family="'Liberation Serif',serif" text-anchor="start" textLength="117.5" lengthAdjust="spacingAndGlyphs" fill="#000" >1243</text>
<text x="1627.3" y="1127" font-size="45.5" font-family="'Liberation Serif',serif" text-anchor="start" textLength="117.5" lengthAdjust="spacingAndGlyphs" fill="#000" >1180</text>
<text x="1751.9" y="1423.2" font-size="45.5" font-family="'Liberation Serif',serif" text-anchor="start" textLength="110.5" lengthAdjust="spacingAndGlyphs" fill="#000" >1031</text>
<text x="1862.6" y="1084.5" font-size="45.5" font-family="'Liberation Serif',serif" text-anchor="start" textLength="192" lengthAdjust="spacingAndGlyphs" fill="#000" >826-694</text>
<text x="869" y="1623" font-size="52.5" font-family="'Liberation Serif',serif" textLength="578" lengthAdjust="spacingAndGlyphs" fill="#000">Wavenumber (cm<tspan font-size="27.5" dy="-21.5">-1</tspan><tspan dy="21.5">)</tspan></text>
<g transform="translate(73.8,944) rotate(-90) scale(1,1.3)"><text x="0" y="0" font-size="54" font-family="'Liberation Serif',serif" textLength="407" lengthAdjust="spacingAndGlyphs" fill="#000">Transmittance (%)</text></g>
</svg>
</body></html>
